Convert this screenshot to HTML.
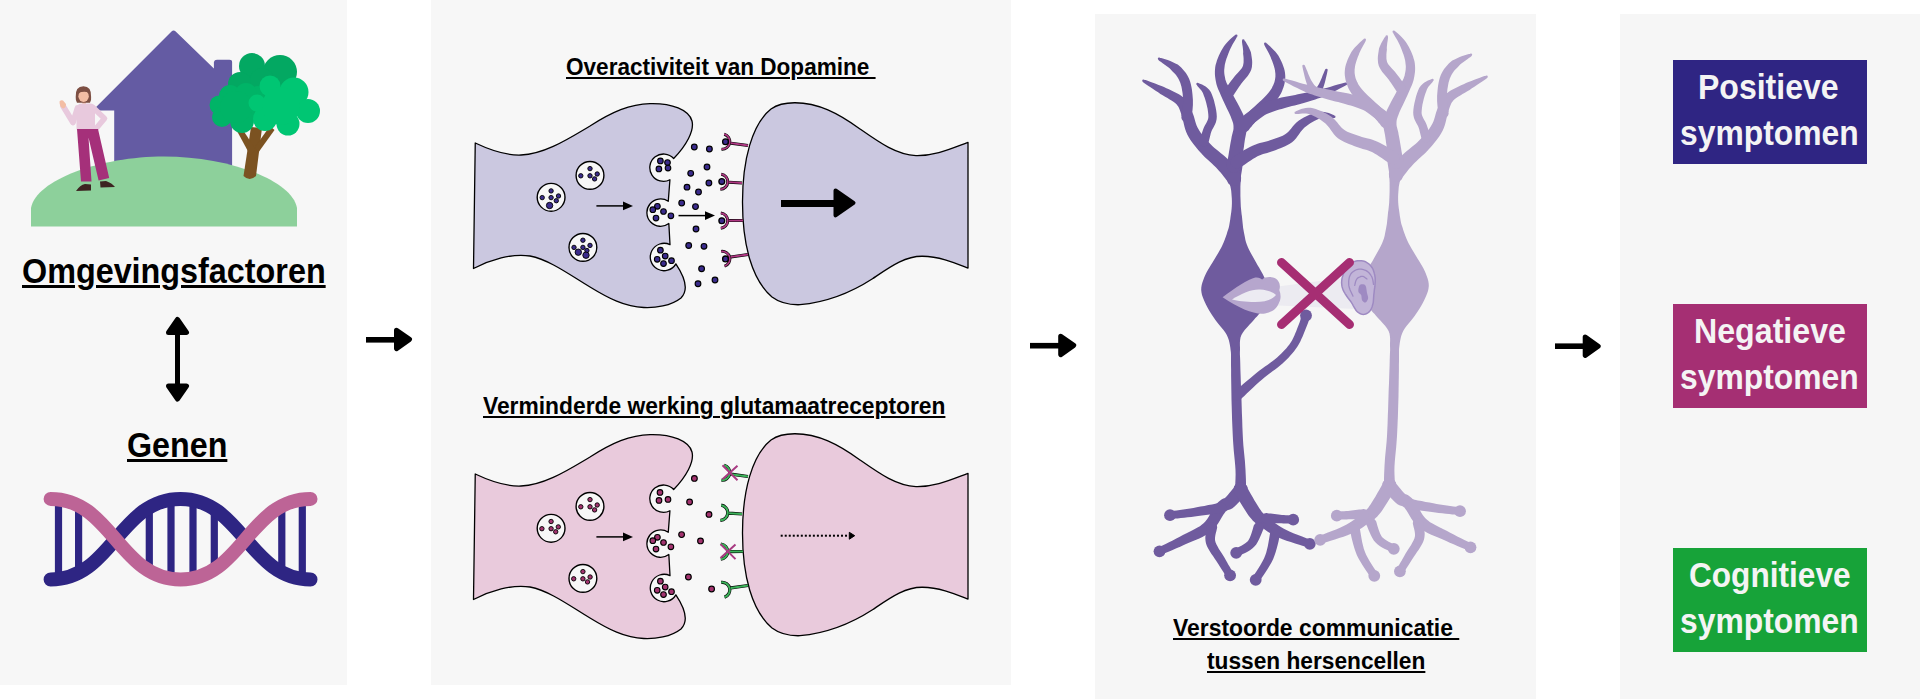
<!DOCTYPE html>
<html><head><meta charset="utf-8">
<style>
html,body{margin:0;padding:0;background:#fff;width:1920px;height:699px;overflow:hidden;position:relative}
.t{position:absolute;font-family:"Liberation Sans",sans-serif;font-weight:bold;line-height:1;white-space:pre;color:#000;transform-origin:0 0;text-decoration:underline}
.big{text-decoration-thickness:2.5px;text-underline-offset:2px}
.sm{text-decoration-thickness:1.8px;text-underline-offset:2px}
.b{position:absolute;font-family:"Liberation Sans",sans-serif;font-weight:bold;line-height:1;white-space:pre;color:#f4f4f4;transform-origin:0 0}
svg{position:absolute;left:0;top:0}
</style></head><body>
<svg width="1920" height="699" viewBox="0 0 1920 699">
<rect x="0" y="0" width="347" height="685" fill="#f7f7f7"/>
<rect x="431" y="0" width="580" height="685" fill="#f7f7f7"/>
<rect x="1095" y="14" width="441" height="685" fill="#f6f6f6"/>
<rect x="1620" y="14" width="300" height="685" fill="#f6f6f6"/>
<g fill="#000" stroke="#000" stroke-linejoin="round">
<rect x="366" y="337" width="30" height="5.6" stroke="none"/>
<path d="M396.5,330.2 L409.5,339.4 L396.5,348.6 Z" stroke-width="5"/>
<rect x="1030" y="342.9" width="30" height="5.6" stroke="none"/>
<path d="M1060.7,336.2 L1073.7,345.4 L1060.7,354.6 Z" stroke-width="5"/>
<rect x="1555" y="343.4" width="30" height="5.6" stroke="none"/>
<path d="M1585.2,337 L1598.2,346.2 L1585.2,355.4 Z" stroke-width="5"/>
<rect x="175" y="330" width="5" height="58" stroke="none"/>
<path d="M168.5,332.5 L177.5,319.5 L186.5,332.5 Z" stroke-width="5"/>
<path d="M168.5,386 L177.5,399 L186.5,386 Z" stroke-width="5"/>
</g>
<rect x="1673" y="60" width="194" height="104" fill="#2f2583"/>
<rect x="1673" y="304" width="194" height="104" fill="#a52f73"/>
<rect x="1673" y="548" width="194" height="104" fill="#17a339"/>
<path d="M95.9,107.2 L171.5,31.5 Q173.6,29.4 175.7,31.5 L213.9,68.5 L213.9,62 Q214.4,59.7 217,59.7 L229.5,59.7 Q232.1,59.7 232.1,62 L232.1,190 L114.2,190 L114.2,110.4 L95.9,110.4 Z" fill="#645ba3"/>
<path d="M31,226.5 L31,208 C36,180 100,156.5 164,156.5 C228,156.5 292,180 297,208 L297,226.5 Z" fill="#8dd09b"/>
<g fill="#7b5221"><path d="M243.5,176 Q249.5,182 256,176 L262,128 L251,127 Z"/><path d="M250,155 L237,131 L242,128.5 L256,150 Z"/><path d="M255,147 L270,126 L274.5,130 L258,153 Z"/></g>
<g fill="#03a862"><circle cx="252" cy="66" r="13"/><circle cx="280" cy="72" r="17"/><circle cx="240" cy="84" r="12"/><circle cx="262" cy="80" r="12"/></g>
<g fill="#00b467"><circle cx="258" cy="95" r="9"/><circle cx="252" cy="113" r="8"/><circle cx="230" cy="96" r="11"/><circle cx="219" cy="105" r="9.5"/><circle cx="222" cy="117" r="10"/><circle cx="242" cy="121" r="12"/><circle cx="246" cy="94" r="11"/><circle cx="236" cy="107" r="16"/></g>
<g fill="#00c673"><circle cx="270" cy="86" r="10.5"/><circle cx="294" cy="92" r="14.5"/><circle cx="308" cy="111" r="12"/><circle cx="288" cy="124" r="11.5"/><circle cx="265" cy="119" r="12"/><circle cx="257" cy="103" r="8.5"/><circle cx="281" cy="106" r="19"/></g>
<path d="M77.5,108 L73,122.5 L63,106" fill="none" stroke="#e8c9dd" stroke-width="5.8" stroke-linejoin="round" stroke-linecap="round"/>
<path d="M59.5,101.5 Q61,99.5 63,100.5 L66,104 Q66,108 63,108.5 Q59.5,107 59.5,101.5 Z" fill="#f3bda4"/>
<path d="M93,107.5 L104.5,118.5 L96.5,128" fill="none" stroke="#e8c9dd" stroke-width="5.6" stroke-linejoin="round" stroke-linecap="round"/>
<rect x="82.3" y="99" width="3.6" height="6.5" fill="#f3bda4"/>
<path d="M76.5,109 Q76.5,103.5 82,103.5 L90,103.5 Q95,103.5 95,109 L95,129.5 L76.5,129.5 Z" fill="#e8c9dd"/>
<path d="M77,129 L98,129 L109.2,178 L98.6,180.5 L88.5,137.5 L91.5,181.5 L81,181.5 Z" fill="#a5307a"/>
<path d="M76,191 Q80,185 85,184 L91,184.5 L91,190.5 Z M100,181.5 L106,181 Q112,183 115,187 L100.5,187.5 Z" fill="#3d2422"/>
<path d="M75.7,97 Q75.2,86.3 83.4,86.3 Q91.6,86.3 91.1,97 Q91.5,101 90,102.7 L77,102.7 Q75.5,101 75.7,97 Z" fill="#7d4f43"/>
<ellipse cx="83.6" cy="96.3" rx="5.2" ry="5.6" fill="#f3bda4"/>
<path d="M78,93 Q80,88 85,88.5 Q89,89.5 89.5,93 Q85,90.5 78,93 Z" fill="#7d4f43"/>
<rect x="54.9" y="499.4" width="7.2" height="79.7" fill="#2e2583"/>
<rect x="75" y="505.6" width="7.2" height="67.3" fill="#2e2583"/>
<rect x="145.7" y="507.4" width="7.2" height="63.7" fill="#2e2583"/>
<rect x="167.4" y="499.6" width="7.2" height="79.2" fill="#2e2583"/>
<rect x="189.4" y="500.1" width="7.2" height="78.2" fill="#2e2583"/>
<rect x="210.7" y="508.9" width="7.2" height="60.6" fill="#2e2583"/>
<rect x="278.2" y="505.9" width="7.2" height="66.5" fill="#2e2583"/>
<rect x="298.7" y="499.4" width="7.2" height="79.6" fill="#2e2583"/>
<path d="M50.6,579.5 C111.7,579.5 119.5,498.9 180.5,498.9 C241.6,498.9 249.4,579.5 310.5,579.5" fill="none" stroke="#2e2583" stroke-width="14" stroke-linecap="round"/>
<path d="M50.6,498.9 C111.7,498.9 119.5,579.5 180.5,579.5 C241.6,579.5 249.4,498.9 310.5,498.9" fill="none" stroke="#bd6496" stroke-width="14" stroke-linecap="round"/>
<path d="M475.25,143 C490,150 508,155.5 521,155 C545,154 568,139 590,126 C612,112 630,104 650,103.6 C672,103 689,110 692,121 C694.5,131 686,146 673.68,158.53 A13.7,13.7 0 1 0 669.93,179.8 L668.26,201.24 A13.7,13.7 0 1 0 668.84,223.54 L670.01,244.69 A13.7,13.7 0 1 0 675.86,263.85 C684,276 690,289 681,298 C671,306 655,308 643.75,307.5 C625,307 608,298 590,287 C570,275 550,260 530,256 C512,253 490,260 473.5,268.5 Z" fill="#cbc8e0" stroke="#000" stroke-width="1.3" stroke-linejoin="round"/>
<path d="M968,142.3 C950,149 935,156 916,155.6 C897,155 880,143 860,129 C838,113 818,102.8 795,102.75 C786,102.7 778,104 771,109 C752,124 742.5,160 742.5,202 C742.5,245 752,280 772,297 C780,303 790,305 800,304.7 C830,302 852,292 872.5,278.75 C890,267 905,256 922.5,256.25 C940,256.5 955,263 968,268.1 Z" fill="#cbc8e0" stroke="#000" stroke-width="1.3" stroke-linejoin="round"/>
<circle cx="551.1" cy="197.3" r="13.9" fill="#f7f7f7" stroke="#000" stroke-width="1.4"/>
<circle cx="590" cy="175.4" r="13.9" fill="#f7f7f7" stroke="#000" stroke-width="1.4"/>
<circle cx="582.9" cy="247.4" r="13.9" fill="#f7f7f7" stroke="#000" stroke-width="1.4"/>
<circle cx="551.1" cy="190.9" r="2.2" fill="#3a2b8c" stroke="#000" stroke-width="0.9"/>
<circle cx="542.2" cy="197.6" r="2.2" fill="#3a2b8c" stroke="#000" stroke-width="0.9"/>
<circle cx="551.1" cy="197.6" r="2.2" fill="#3a2b8c" stroke="#000" stroke-width="0.9"/>
<circle cx="558.5" cy="196" r="2.2" fill="#3a2b8c" stroke="#000" stroke-width="0.9"/>
<circle cx="556.3" cy="200.7" r="2.2" fill="#3a2b8c" stroke="#000" stroke-width="0.9"/>
<circle cx="549.6" cy="205.5" r="3.2" fill="#3a2b8c" stroke="#000" stroke-width="0.9"/>
<circle cx="590" cy="168.6" r="2.2" fill="#3a2b8c" stroke="#000" stroke-width="0.9"/>
<circle cx="580.8" cy="175.8" r="2.2" fill="#3a2b8c" stroke="#000" stroke-width="0.9"/>
<circle cx="590" cy="175.8" r="2.2" fill="#3a2b8c" stroke="#000" stroke-width="0.9"/>
<circle cx="597.2" cy="174" r="2.2" fill="#3a2b8c" stroke="#000" stroke-width="0.9"/>
<circle cx="594.6" cy="178.9" r="2.2" fill="#3a2b8c" stroke="#000" stroke-width="0.9"/>
<circle cx="582.9" cy="240.2" r="2.2" fill="#3a2b8c" stroke="#000" stroke-width="0.9"/>
<circle cx="574" cy="247.4" r="2.2" fill="#3a2b8c" stroke="#000" stroke-width="0.9"/>
<circle cx="582.9" cy="247.4" r="2.2" fill="#3a2b8c" stroke="#000" stroke-width="0.9"/>
<circle cx="590" cy="245.4" r="2.2" fill="#3a2b8c" stroke="#000" stroke-width="0.9"/>
<circle cx="586.9" cy="250.5" r="2.2" fill="#3a2b8c" stroke="#000" stroke-width="0.9"/>
<circle cx="578.3" cy="252.2" r="3.2" fill="#3a2b8c" stroke="#000" stroke-width="0.9"/>
<circle cx="586" cy="255.2" r="3.2" fill="#3a2b8c" stroke="#000" stroke-width="0.9"/>
<circle cx="660.4" cy="160.9" r="2.8" fill="#3a2b8c" stroke="#000" stroke-width="1.1"/>
<circle cx="667.5" cy="162.6" r="2.8" fill="#3a2b8c" stroke="#000" stroke-width="1.1"/>
<circle cx="658.9" cy="168.9" r="2.8" fill="#3a2b8c" stroke="#000" stroke-width="1.1"/>
<circle cx="668" cy="168.1" r="2.8" fill="#3a2b8c" stroke="#000" stroke-width="1.1"/>
<circle cx="657.4" cy="206.3" r="2.8" fill="#3a2b8c" stroke="#000" stroke-width="1.1"/>
<circle cx="652.8" cy="209.7" r="2.8" fill="#3a2b8c" stroke="#000" stroke-width="1.1"/>
<circle cx="663.5" cy="211.5" r="2.8" fill="#3a2b8c" stroke="#000" stroke-width="1.1"/>
<circle cx="656" cy="218.1" r="2.8" fill="#3a2b8c" stroke="#000" stroke-width="1.1"/>
<circle cx="670.9" cy="215.8" r="2.8" fill="#3a2b8c" stroke="#000" stroke-width="1.1"/>
<circle cx="660.4" cy="250.2" r="2.8" fill="#3a2b8c" stroke="#000" stroke-width="1.1"/>
<circle cx="665.2" cy="256.1" r="2.8" fill="#3a2b8c" stroke="#000" stroke-width="1.1"/>
<circle cx="657.2" cy="259.3" r="2.8" fill="#3a2b8c" stroke="#000" stroke-width="1.1"/>
<circle cx="671.5" cy="260.7" r="2.8" fill="#3a2b8c" stroke="#000" stroke-width="1.1"/>
<circle cx="663.5" cy="263.6" r="2.8" fill="#3a2b8c" stroke="#000" stroke-width="1.1"/>
<circle cx="694.3" cy="147" r="2.85" fill="#3a2b8c" stroke="#000" stroke-width="1.15"/>
<circle cx="709.4" cy="149" r="2.85" fill="#3a2b8c" stroke="#000" stroke-width="1.15"/>
<circle cx="707" cy="167" r="2.85" fill="#3a2b8c" stroke="#000" stroke-width="1.15"/>
<circle cx="690.7" cy="173.3" r="2.85" fill="#3a2b8c" stroke="#000" stroke-width="1.15"/>
<circle cx="708.9" cy="183" r="2.85" fill="#3a2b8c" stroke="#000" stroke-width="1.15"/>
<circle cx="687" cy="187.2" r="2.85" fill="#3a2b8c" stroke="#000" stroke-width="1.15"/>
<circle cx="698.5" cy="192" r="2.85" fill="#3a2b8c" stroke="#000" stroke-width="1.15"/>
<circle cx="681.7" cy="203" r="2.85" fill="#3a2b8c" stroke="#000" stroke-width="1.15"/>
<circle cx="695.5" cy="206.6" r="2.85" fill="#3a2b8c" stroke="#000" stroke-width="1.15"/>
<circle cx="696" cy="229" r="2.85" fill="#3a2b8c" stroke="#000" stroke-width="1.15"/>
<circle cx="688.7" cy="245.5" r="2.85" fill="#3a2b8c" stroke="#000" stroke-width="1.15"/>
<circle cx="704" cy="246.3" r="2.85" fill="#3a2b8c" stroke="#000" stroke-width="1.15"/>
<circle cx="701.6" cy="268.7" r="2.85" fill="#3a2b8c" stroke="#000" stroke-width="1.15"/>
<circle cx="698" cy="283.7" r="2.85" fill="#3a2b8c" stroke="#000" stroke-width="1.15"/>
<circle cx="715" cy="280" r="2.85" fill="#3a2b8c" stroke="#000" stroke-width="1.15"/>
<path d="M724.2,134.23 A7.6,7.6 0 0 1 721.49,149.13 M748,145.5 L730.98,143.16" fill="none" stroke="#000" stroke-width="3.0"/>
<path d="M724.2,134.23 A7.6,7.6 0 0 1 721.49,149.13 M748,145.5 L730.98,143.16" fill="none" stroke="#b03884" stroke-width="1.8"/>
<circle cx="725.5" cy="141.8" r="2.9" fill="#3a2b8c" stroke="#000" stroke-width="1.3"/>
<path d="M721.26,174.2 A7.6,7.6 0 0 1 720.42,189.32 M742,183 L729.09,182.22" fill="none" stroke="#000" stroke-width="3.0"/>
<path d="M721.26,174.2 A7.6,7.6 0 0 1 720.42,189.32 M742,183 L729.09,182.22" fill="none" stroke="#b03884" stroke-width="1.8"/>
<circle cx="721.8" cy="181.6" r="2.9" fill="#3a2b8c" stroke="#000" stroke-width="1.3"/>
<path d="M720.84,213.03 A7.6,7.6 0 0 1 720.84,228.17 M743,220.5 L729.1,220.6" fill="none" stroke="#000" stroke-width="3.0"/>
<path d="M720.84,213.03 A7.6,7.6 0 0 1 720.84,228.17 M743,220.5 L729.1,220.6" fill="none" stroke="#b03884" stroke-width="1.8"/>
<circle cx="721.8" cy="220.7" r="2.9" fill="#3a2b8c" stroke="#000" stroke-width="1.3"/>
<path d="M721.16,251.37 A7.6,7.6 0 0 1 724.55,266.13 M748,254.5 L730.91,256.89" fill="none" stroke="#000" stroke-width="3.0"/>
<path d="M721.16,251.37 A7.6,7.6 0 0 1 724.55,266.13 M748,254.5 L730.91,256.89" fill="none" stroke="#b03884" stroke-width="1.8"/>
<circle cx="725.5" cy="258.9" r="2.9" fill="#3a2b8c" stroke="#000" stroke-width="1.3"/>
<path d="M596.4,205.9 L625,205.9" stroke="#000" stroke-width="1.5"/>
<path d="M623,201.6 L633,205.9 L623,210.2 Z" fill="#000"/>
<path d="M678.5,215.6 L707,215.6" stroke="#000" stroke-width="1.5"/>
<path d="M705,211.3 L715,215.6 L705,219.9 Z" fill="#000"/>
<path d="M781,203.5 L840,203.5" stroke="#000" stroke-width="7"/>
<path d="M835.5,190.5 L853.5,202.8 L835.5,215.3 Z" fill="#000" stroke="#000" stroke-width="4" stroke-linejoin="round"/>
<path d="M475.25,474 C490,481 508,486.5 521,486 C545,485 568,470 590,457 C612,443 630,435 650,434.6 C672,434 689,441 692,452 C694.5,462 686,477 673.68,489.53 A13.7,13.7 0 1 0 669.93,510.8 L668.26,532.24 A13.7,13.7 0 1 0 668.84,554.54 L670.01,575.69 A13.7,13.7 0 1 0 675.86,594.85 C684,607 690,620 681,629 C671,637 655,639 643.75,638.5 C625,638 608,629 590,618 C570,606 550,591 530,587 C512,584 490,591 473.5,599.5 Z" fill="#e9cadc" stroke="#000" stroke-width="1.3" stroke-linejoin="round"/>
<path d="M968,473.3 C950,480 935,487 916,486.6 C897,486 880,474 860,460 C838,444 818,433.8 795,433.75 C786,433.7 778,435 771,440 C752,455 742.5,491 742.5,533 C742.5,576 752,611 772,628 C780,634 790,636 800,635.7 C830,633 852,623 872.5,609.75 C890,598 905,587 922.5,587.25 C940,587.5 955,594 968,599.1 Z" fill="#e9cadc" stroke="#000" stroke-width="1.3" stroke-linejoin="round"/>
<circle cx="551.1" cy="528.3" r="13.9" fill="#f7f7f7" stroke="#000" stroke-width="1.4"/>
<circle cx="590" cy="506.4" r="13.9" fill="#f7f7f7" stroke="#000" stroke-width="1.4"/>
<circle cx="582.9" cy="578.4" r="13.9" fill="#f7f7f7" stroke="#000" stroke-width="1.4"/>
<circle cx="551.1" cy="521.5" r="2.2" fill="#a3336f" stroke="#000" stroke-width="0.9"/>
<circle cx="541.9" cy="528.7" r="2.2" fill="#a3336f" stroke="#000" stroke-width="0.9"/>
<circle cx="551.1" cy="528.7" r="2.2" fill="#a3336f" stroke="#000" stroke-width="0.9"/>
<circle cx="558.3" cy="526.9" r="2.2" fill="#a3336f" stroke="#000" stroke-width="0.9"/>
<circle cx="555.7" cy="531.8" r="2.2" fill="#a3336f" stroke="#000" stroke-width="0.9"/>
<circle cx="590" cy="499.6" r="2.2" fill="#a3336f" stroke="#000" stroke-width="0.9"/>
<circle cx="580.8" cy="506.8" r="2.2" fill="#a3336f" stroke="#000" stroke-width="0.9"/>
<circle cx="590" cy="506.8" r="2.2" fill="#a3336f" stroke="#000" stroke-width="0.9"/>
<circle cx="597.2" cy="505" r="2.2" fill="#a3336f" stroke="#000" stroke-width="0.9"/>
<circle cx="594.6" cy="509.9" r="2.2" fill="#a3336f" stroke="#000" stroke-width="0.9"/>
<circle cx="582.9" cy="571.6" r="2.2" fill="#a3336f" stroke="#000" stroke-width="0.9"/>
<circle cx="573.7" cy="578.8" r="2.2" fill="#a3336f" stroke="#000" stroke-width="0.9"/>
<circle cx="582.9" cy="578.8" r="2.2" fill="#a3336f" stroke="#000" stroke-width="0.9"/>
<circle cx="590.1" cy="577" r="2.2" fill="#a3336f" stroke="#000" stroke-width="0.9"/>
<circle cx="587.5" cy="581.9" r="2.2" fill="#a3336f" stroke="#000" stroke-width="0.9"/>
<circle cx="660" cy="492.4" r="2.8" fill="#a3336f" stroke="#000" stroke-width="1.1"/>
<circle cx="659" cy="500.4" r="2.8" fill="#a3336f" stroke="#000" stroke-width="1.1"/>
<circle cx="668" cy="499.4" r="2.8" fill="#a3336f" stroke="#000" stroke-width="1.1"/>
<circle cx="657.4" cy="537.3" r="2.8" fill="#a3336f" stroke="#000" stroke-width="1.1"/>
<circle cx="652.8" cy="540.7" r="2.8" fill="#a3336f" stroke="#000" stroke-width="1.1"/>
<circle cx="663.5" cy="542.5" r="2.8" fill="#a3336f" stroke="#000" stroke-width="1.1"/>
<circle cx="656" cy="549.1" r="2.8" fill="#a3336f" stroke="#000" stroke-width="1.1"/>
<circle cx="670.9" cy="546.8" r="2.8" fill="#a3336f" stroke="#000" stroke-width="1.1"/>
<circle cx="660.4" cy="581.2" r="2.8" fill="#a3336f" stroke="#000" stroke-width="1.1"/>
<circle cx="665.2" cy="587.1" r="2.8" fill="#a3336f" stroke="#000" stroke-width="1.1"/>
<circle cx="657.2" cy="590.3" r="2.8" fill="#a3336f" stroke="#000" stroke-width="1.1"/>
<circle cx="671.5" cy="591.7" r="2.8" fill="#a3336f" stroke="#000" stroke-width="1.1"/>
<circle cx="663.5" cy="594.6" r="2.8" fill="#a3336f" stroke="#000" stroke-width="1.1"/>
<circle cx="694.4" cy="478.4" r="2.85" fill="#a3336f" stroke="#000" stroke-width="1.15"/>
<circle cx="689.6" cy="502" r="2.85" fill="#a3336f" stroke="#000" stroke-width="1.15"/>
<circle cx="709" cy="514.4" r="2.85" fill="#a3336f" stroke="#000" stroke-width="1.15"/>
<circle cx="681.6" cy="534.6" r="2.85" fill="#a3336f" stroke="#000" stroke-width="1.15"/>
<circle cx="700.5" cy="540.9" r="2.85" fill="#a3336f" stroke="#000" stroke-width="1.15"/>
<circle cx="688.4" cy="577" r="2.85" fill="#a3336f" stroke="#000" stroke-width="1.15"/>
<circle cx="711.6" cy="589" r="2.85" fill="#a3336f" stroke="#000" stroke-width="1.15"/>
<path d="M724.2,465.23 A7.6,7.6 0 0 1 721.49,480.13 M748,476.5 L730.98,474.16" fill="none" stroke="#000" stroke-width="3.2"/>
<path d="M724.2,465.23 A7.6,7.6 0 0 1 721.49,480.13 M748,476.5 L730.98,474.16" fill="none" stroke="#3cb35a" stroke-width="2.0"/>
<path d="M722.5,465.3 L737.5,480.3 M737.5,465.8 L722.5,479.3" stroke="#a83a82" stroke-width="2" fill="none"/>
<path d="M721.26,505.2 A7.6,7.6 0 0 1 720.42,520.32 M742,514 L729.09,513.22" fill="none" stroke="#000" stroke-width="3.2"/>
<path d="M721.26,505.2 A7.6,7.6 0 0 1 720.42,520.32 M742,514 L729.09,513.22" fill="none" stroke="#3cb35a" stroke-width="2.0"/>
<path d="M720.84,544.03 A7.6,7.6 0 0 1 720.84,559.17 M743,551.5 L729.1,551.6" fill="none" stroke="#000" stroke-width="3.2"/>
<path d="M720.84,544.03 A7.6,7.6 0 0 1 720.84,559.17 M743,551.5 L729.1,551.6" fill="none" stroke="#3cb35a" stroke-width="2.0"/>
<path d="M720.5,544.1 L735.5,559.1 M735.5,544.6 L720.5,558.1" stroke="#a83a82" stroke-width="2" fill="none"/>
<path d="M721.16,582.37 A7.6,7.6 0 0 1 724.55,597.13 M748,585.5 L730.91,587.89" fill="none" stroke="#000" stroke-width="3.2"/>
<path d="M721.16,582.37 A7.6,7.6 0 0 1 724.55,597.13 M748,585.5 L730.91,587.89" fill="none" stroke="#3cb35a" stroke-width="2.0"/>
<path d="M596.4,536.9 L625,536.9" stroke="#000" stroke-width="1.5"/>
<path d="M623,532.6 L633,536.9 L623,541.2 Z" fill="#000"/>
<g fill="#000"><rect x="780.7" y="534.7" width="2" height="2"/><rect x="784.72" y="534.7" width="2" height="2"/><rect x="788.74" y="534.7" width="2" height="2"/><rect x="792.76" y="534.7" width="2" height="2"/><rect x="796.78" y="534.7" width="2" height="2"/><rect x="800.8" y="534.7" width="2" height="2"/><rect x="804.82" y="534.7" width="2" height="2"/><rect x="808.84" y="534.7" width="2" height="2"/><rect x="812.86" y="534.7" width="2" height="2"/><rect x="816.88" y="534.7" width="2" height="2"/><rect x="820.9" y="534.7" width="2" height="2"/><rect x="824.92" y="534.7" width="2" height="2"/><rect x="828.94" y="534.7" width="2" height="2"/><rect x="832.96" y="534.7" width="2" height="2"/><rect x="836.98" y="534.7" width="2" height="2"/><rect x="841" y="534.7" width="2" height="2"/><rect x="845.02" y="534.7" width="2" height="2"/></g>
<path d="M849.3,532.3 L854.7,535.7 L849.3,539.2 Z" fill="#000" stroke="#000" stroke-width="1" stroke-linejoin="round"/>
<g fill="#6f5b9e"><path d="M1229,160 L1228.2,162 L1227.8,164.8 L1227.8,168.2 L1228,171.6 L1228.3,175 L1228.6,177.9 L1228.9,180.3 L1229.3,182.4 L1229.8,184.4 L1230.4,186.4 L1230.8,188.5 L1231.2,190.7 L1231.4,193.1 L1231.6,195.7 L1231.8,198.3 L1231.9,200.9 L1231.9,203.6 L1231.8,206.2 L1231.6,208.9 L1231.3,211.7 L1230.9,214.6 L1230.5,217.3 L1230.2,219.8 L1229.8,222 L1229.5,223.7 L1229.3,225 L1229.1,226.1 L1228.9,227.1 L1228.5,228.4 L1228,230 L1227.3,232.1 L1226.6,234.5 L1225.7,237.1 L1224.7,239.7 L1223.6,242.4 L1222.5,245 L1221.3,247.5 L1219.9,250 L1218.5,252.5 L1217,255 L1215.5,257.5 L1214,260 L1212.5,262.5 L1210.9,265 L1209.4,267.5 L1207.9,270 L1206.5,272.5 L1205.3,275 L1204.2,277.5 L1203.3,280 L1202.4,282.5 L1201.7,285 L1201.3,287.5 L1201.2,290 L1201.5,292.5 L1202,295 L1202.9,297.5 L1203.9,300 L1205,302.5 L1206.2,305 L1207.5,307.5 L1208.9,310 L1210.4,312.5 L1212,315 L1213.7,317.5 L1215.4,320 L1217.3,322.5 L1219.3,325 L1221.4,327.5 L1223.5,330 L1225.3,332.5 L1226.8,335 L1227.9,337.5 L1228.8,340 L1229.4,342.5 L1229.9,345 L1230.3,347.5 L1230.6,350 L1230.9,352.3 L1231,354.3 L1231,356.2 L1231,358.5 L1231,361.3 L1231,365 L1231.1,369.6 L1231.1,375 L1231.2,380.9 L1231.3,387.2 L1231.4,393.6 L1231.5,400 L1231.7,406.5 L1231.9,413.3 L1232.1,420.3 L1232.4,427.2 L1232.7,433.9 L1233,440 L1233.4,445.7 L1233.8,451 L1234.3,456.1 L1234.8,461 L1235.2,465.6 L1235.5,470 L1235.6,474.4 L1235.5,478.7 L1235.3,482.9 L1235.3,486.6 L1235.4,489.7 L1236,492 L1237.1,493.5 L1238.7,494.4 L1240.5,494.8 L1242.3,494.4 L1243.9,493.5 L1245,492 L1245.6,489.7 L1245.9,486.6 L1246,482.9 L1245.9,478.7 L1245.7,474.4 L1245.5,470 L1245.2,465.6 L1244.9,461 L1244.4,456.1 L1243.9,451 L1243.4,445.7 L1243,440 L1242.7,433.9 L1242.4,427.2 L1242.2,420.3 L1241.9,413.3 L1241.7,406.5 L1241.5,400 L1241.3,393.6 L1241,387.2 L1240.8,380.9 L1240.6,375 L1240.4,369.6 L1240.3,365 L1240.2,361.3 L1240.1,358.5 L1240,356.2 L1239.9,354.3 L1239.9,352.3 L1240,350 L1240,347.5 L1239.9,345 L1239.9,342.5 L1240.1,340 L1240.5,337.5 L1241.4,335 L1242.9,332.4 L1244.9,329.8 L1247.2,327.2 L1249.6,324.6 L1251.8,322.2 L1253.8,320 L1255.4,318.1 L1257,316.4 L1258.4,314.8 L1259.7,313.3 L1260.9,311.7 L1262,310 L1263.1,308.1 L1264.1,306.2 L1265,304.2 L1265.8,302.1 L1266.5,300.1 L1267,298 L1267.3,295.9 L1267.5,293.6 L1267.5,291.4 L1267.5,289.1 L1267.3,287 L1267,285 L1266.6,283.2 L1266.2,281.6 L1265.6,280.1 L1265,278.6 L1264.1,276.9 L1263.2,275 L1262,272.8 L1260.7,270.4 L1259.2,267.8 L1257.6,265.2 L1256.1,262.6 L1254.7,260 L1253.3,257.5 L1251.9,255 L1250.5,252.5 L1249.2,250 L1248,247.5 L1247,245 L1246.1,242.5 L1245.4,239.9 L1244.9,237.3 L1244.4,234.8 L1243.9,232.3 L1243.5,230 L1243.1,227.8 L1242.9,225.8 L1242.7,223.8 L1242.5,221.9 L1242.3,220 L1242.1,218 L1241.9,216.1 L1241.6,214.2 L1241.4,212.3 L1241.2,210.4 L1241,208.4 L1240.8,206.2 L1240.7,203.8 L1240.6,201.2 L1240.5,198.5 L1240.4,195.8 L1240.4,193.2 L1240.4,190.7 L1240.4,188.5 L1240.4,186.4 L1240.5,184.4 L1240.6,182.4 L1240.7,180.3 L1240.8,177.9 L1241.1,175 L1241.7,171.6 L1242.2,168.2 L1242.6,164.8 L1242.6,162 L1242,160 L1240.5,158.8 L1238.3,158 L1235.6,157.8 L1232.9,158 L1230.6,158.8 Z"/>
<path d="M1142.8,81.9 L1144.1,83 L1145.9,84.2 L1148.1,85.7 L1150.5,87.3 L1153.1,89 L1155.6,90.7 L1158.1,92.3 L1160.4,93.9 L1162.7,95.3 L1165.1,96.7 L1167.5,98.1 L1169.7,99.4 L1171.9,100.7 L1173.8,102.1 L1175.4,103.3 L1176.7,104.6 L1177.6,105.7 L1178.4,106.8 L1179,108 L1179.5,109.2 L1180,110.6 L1180.6,112.3 L1181.2,114.1 L1181.8,116 L1182.4,117.8 L1182.9,119.7 L1183.4,121.9 L1183.9,124.2 L1184.5,126.7 L1185.3,129.4 L1186.2,132.1 L1187.4,134.8 L1188.8,137.3 L1190.3,139.7 L1191.9,142 L1193.6,144.3 L1195.4,146.6 L1197.2,148.8 L1199.1,150.9 L1201,153.1 L1203,155.3 L1205.2,157.5 L1207.5,159.6 L1209.7,161.6 L1211.9,163.6 L1213.9,165.5 L1215.8,167.3 L1217.4,169 L1218.9,170.7 L1220.6,172.5 L1222.2,174.5 L1223.7,176.4 L1225.1,178.2 L1226.4,179.9 L1227.5,181.3 L1228.4,182.4 L1239.6,173.6 L1239.6,173.6 L1238.8,172.5 L1237.7,171.1 L1236.4,169.5 L1234.9,167.5 L1233.3,165.5 L1231.5,163.3 L1229.6,161.1 L1227.6,159 L1225.5,157 L1223.2,155.1 L1220.9,153.2 L1218.6,151.3 L1216.4,149.5 L1214.2,147.7 L1212.3,145.9 L1210.4,144.1 L1208.7,142.3 L1206.9,140.3 L1205.2,138.4 L1203.6,136.5 L1202.1,134.6 L1200.7,132.7 L1199.4,130.8 L1198.4,129 L1197.4,127.3 L1196.6,125.4 L1195.9,123.4 L1195.2,121.2 L1194.6,118.9 L1193.9,116.6 L1193.1,114.2 L1192.2,112 L1191.3,110.2 L1190.6,108.4 L1189.8,106.7 L1189,104.9 L1187.9,103 L1186.7,101.1 L1185.2,99.2 L1183.3,97.4 L1181.2,95.8 L1178.9,94.3 L1176.4,93 L1173.9,91.7 L1171.4,90.5 L1168.9,89.3 L1166.4,88.2 L1164,87.1 L1161.5,86 L1158.6,84.9 L1155.7,83.8 L1152.9,82.7 L1150.1,81.7 L1147.7,80.8 L1145.6,80.1 L1144,79.7 Z M1142.2,80.8 a1.2,1.2 0 1 0 2.5,0 a1.2,1.2 0 1 0 -2.5,0 Z M1226.8,178 a7.2,7.2 0 1 0 14.3,0 a7.2,7.2 0 1 0 -14.3,0 Z" fill-rule="nonzero"/>
<path d="M1158.4,59.9 L1159.5,60.9 L1161.1,62.1 L1163,63.5 L1165.1,65 L1167.2,66.5 L1169.3,68.1 L1171,69.7 L1172.3,71.2 L1173.6,72.4 L1174.9,73.8 L1176,75.1 L1177,76.5 L1178,77.9 L1178.8,79.4 L1179.5,81 L1180.2,82.6 L1180.8,84.4 L1181.4,86.4 L1181.8,88.6 L1182.2,90.9 L1182.6,93.3 L1182.8,95.7 L1183,98 L1183.1,100.2 L1183.1,102.3 L1183,104.5 L1182.7,106.8 L1182.5,109.1 L1182.1,111.3 L1181.8,113.3 L1181.5,115.1 L1181.3,116.4 L1191.7,117.6 L1191.7,117.6 L1191.8,116.4 L1192,114.7 L1192.2,112.6 L1192.5,110.3 L1192.7,107.8 L1192.9,105.1 L1192.9,102.4 L1192.9,99.8 L1192.7,97.3 L1192.5,94.8 L1192.2,92.1 L1191.9,89.4 L1191.4,86.7 L1190.8,84 L1190.1,81.5 L1189.2,79 L1188.1,76.8 L1187,74.7 L1185.7,72.8 L1184.2,70.9 L1182.7,69.2 L1181.2,67.6 L1179.5,66.1 L1177.7,64.6 L1175.4,63.4 L1172.9,62.2 L1170.3,61.1 L1167.7,60.1 L1165.2,59.3 L1162.9,58.6 L1161,58 L1159.6,57.7 Z M1157.8,58.8 a1.2,1.2 0 1 0 2.5,0 a1.2,1.2 0 1 0 -2.5,0 Z M1181.3,117 a5.2,5.2 0 1 0 10.4,0 a5.2,5.2 0 1 0 -10.4,0 Z" fill-rule="nonzero"/>
<path d="M1196.8,85 L1197.4,85.9 L1198.3,87 L1199.4,88.2 L1200.5,89.4 L1201.6,90.8 L1202.5,92.2 L1203.2,93.8 L1203.8,95.4 L1204.6,97.4 L1205.4,99.9 L1206.2,102.8 L1206.9,105.8 L1207.6,108.8 L1208,111.7 L1208.3,114.4 L1208.4,116.5 L1208.3,118 L1207.9,119.4 L1207.4,120.8 L1206.7,122.2 L1205.9,123.7 L1205,125.3 L1204.1,127.1 L1203.3,129 L1202.7,130.8 L1202.1,132.5 L1201.6,134.3 L1201.1,135.9 L1200.6,137.5 L1200.2,138.8 L1199.9,139.9 L1199.6,140.8 L1208.4,143.2 L1208.4,143.2 L1208.6,142.3 L1208.9,141.1 L1209.2,139.7 L1209.6,138.2 L1210,136.6 L1210.4,135 L1210.8,133.3 L1211.3,131.8 L1211.8,130.6 L1212.4,129.3 L1213.3,127.8 L1214.2,126.1 L1215.2,124.1 L1216,121.9 L1216.6,119.3 L1216.8,116.5 L1216.6,113.6 L1216.2,110.5 L1215.6,107.2 L1214.8,103.9 L1214,100.6 L1213,97.5 L1211.9,94.6 L1210.8,92 L1209.2,89.8 L1207.4,88 L1205.6,86.6 L1203.8,85.4 L1202.1,84.6 L1200.6,83.9 L1199.3,83.4 L1198.4,83 Z M1196.3,84 a1.2,1.2 0 1 0 2.5,0 a1.2,1.2 0 1 0 -2.5,0 Z M1199.5,142 a4.5,4.5 0 1 0 9.1,0 a4.5,4.5 0 1 0 -9.1,0 Z" fill-rule="nonzero"/>
<path d="M1235.2,34.9 L1234.2,35.7 L1233,36.7 L1231.5,38.1 L1229.9,39.6 L1228.2,41.2 L1226.6,43 L1224.9,44.9 L1223.5,46.9 L1222.3,48.9 L1221.1,51.1 L1220,53.3 L1218.9,55.6 L1217.9,57.9 L1217,60.3 L1216.3,62.7 L1215.6,65 L1215.2,67.2 L1215,69.5 L1214.9,71.6 L1214.9,73.8 L1215,75.8 L1215.3,77.9 L1215.6,79.9 L1216,81.9 L1216.4,83.9 L1217,85.9 L1217.6,87.7 L1218.3,89.5 L1219.1,91.3 L1219.9,93.1 L1220.7,95 L1221.6,97.1 L1222.7,99.6 L1224.1,102.4 L1225.5,105.4 L1226.9,108.4 L1228.4,111.4 L1229.7,114.2 L1230.8,116.7 L1231.6,118.9 L1232.2,120.6 L1232.7,122.1 L1233.1,123.3 L1233.3,124.3 L1233.4,125.1 L1233.5,126 L1233.5,127 L1233.5,128.1 L1233.5,129.1 L1233.3,129.9 L1233.2,130.7 L1232.9,131.7 L1232.6,133 L1232.2,134.6 L1231.7,136.6 L1231.3,138.9 L1230.8,141.6 L1230.2,144.8 L1229.6,148.4 L1229,152.1 L1228.4,155.8 L1227.8,159.1 L1227.3,161.9 L1226.9,163.9 L1241.1,166.1 L1241.1,166.1 L1241.3,164.1 L1241.7,161.3 L1242.2,158 L1242.8,154.4 L1243.3,150.6 L1243.9,147 L1244.3,143.8 L1244.7,141.1 L1245,139.1 L1245.3,137.5 L1245.6,136 L1245.9,134.6 L1246.2,133.1 L1246.4,131.5 L1246.5,129.7 L1246.5,127.9 L1246.4,126.2 L1246.2,124.7 L1246,123.1 L1245.6,121.5 L1245.2,119.8 L1244.6,118.1 L1243.9,116.2 L1243,114.1 L1241.9,111.7 L1240.5,109 L1239,106.1 L1237.4,103.1 L1235.7,100.1 L1234.2,97.3 L1232.8,94.6 L1231.6,92.3 L1230.5,90.2 L1229.5,88.3 L1228.5,86.6 L1227.7,85.1 L1227,83.8 L1226.4,82.5 L1225.9,81.1 L1225.4,79.7 L1225.1,78.1 L1224.8,76.5 L1224.5,74.9 L1224.3,73.2 L1224.2,71.6 L1224.2,70 L1224.4,68.3 L1224.6,66.6 L1224.8,64.8 L1225.3,62.8 L1225.8,60.7 L1226.5,58.5 L1227.3,56.4 L1228.1,54.2 L1228.9,52.2 L1229.7,50.3 L1230.5,48.4 L1231.5,46.5 L1232.5,44.5 L1233.7,42.6 L1234.8,40.8 L1235.8,39.1 L1236.6,37.6 L1237.2,36.5 Z M1235,35.7 a1.2,1.2 0 1 0 2.5,0 a1.2,1.2 0 1 0 -2.5,0 Z M1226.8,165 a7.2,7.2 0 1 0 14.3,0 a7.2,7.2 0 1 0 -14.3,0 Z" fill-rule="nonzero"/>
<path d="M1242,41 L1242,42.1 L1242.2,43.4 L1242.4,45 L1242.7,46.7 L1242.9,48.4 L1243.1,50.2 L1243.2,51.9 L1243.1,53.5 L1243.3,55.2 L1243.5,57 L1243.6,58.8 L1243.6,60.6 L1243.6,62.2 L1243.4,63.8 L1243.1,65.2 L1242.7,66.4 L1242.2,67.5 L1241.4,68.7 L1240.3,70.1 L1239,71.5 L1237.7,73.1 L1236.2,74.6 L1234.7,76.2 L1233.4,77.9 L1232.2,79.5 L1231,81 L1229.9,82.6 L1228.8,84.1 L1227.8,85.5 L1226.9,86.7 L1226.1,87.8 L1225.5,88.5 L1234.1,94.5 L1234.1,94.5 L1234.6,93.6 L1235.3,92.5 L1236.1,91.3 L1237.1,89.8 L1238.1,88.3 L1239.1,86.7 L1240.2,85.2 L1241.2,83.7 L1242.2,82.4 L1243.4,81 L1244.7,79.4 L1246.2,77.7 L1247.7,75.9 L1249,73.9 L1250.3,71.8 L1251.3,69.4 L1251.9,67 L1252.1,64.7 L1252.2,62.4 L1252.1,60.2 L1251.8,58 L1251.5,56 L1251.2,54.1 L1250.9,52.3 L1250.2,50.4 L1249.3,48.5 L1248.5,46.7 L1247.5,45 L1246.6,43.4 L1245.8,42.1 L1245,41 L1244.4,40.2 Z M1242,40.6 a1.2,1.2 0 1 0 2.5,0 a1.2,1.2 0 1 0 -2.5,0 Z M1224.6,91.5 a5.2,5.2 0 1 0 10.4,0 a5.2,5.2 0 1 0 -10.4,0 Z" fill-rule="nonzero"/>
<path d="M1264.2,44.6 L1264.7,45.8 L1265.5,47.3 L1266.5,49.1 L1267.6,51.1 L1268.7,53.1 L1269.8,55.2 L1270.7,57.2 L1271.3,59 L1272.1,60.8 L1272.8,62.7 L1273.5,64.7 L1274.1,66.7 L1274.6,68.6 L1275,70.5 L1275.2,72.2 L1275.4,73.8 L1275.4,75.3 L1275.4,76.8 L1275.2,78.2 L1275,79.6 L1274.7,81 L1274.3,82.4 L1273.8,83.8 L1273.2,85.3 L1272.5,86.6 L1271.9,87.9 L1271.1,89.2 L1270.2,90.4 L1269.3,91.8 L1268.1,93.2 L1266.8,94.7 L1265.4,96.3 L1263.7,98.1 L1261.7,100 L1259.4,102.1 L1257,104.3 L1254.6,106.4 L1252.3,108.6 L1250.1,110.5 L1248.2,112.4 L1246.5,114 L1244.9,115.5 L1243.5,116.9 L1242.3,118.2 L1241.2,119.3 L1240.2,120.3 L1239.5,121.1 L1238.8,121.7 L1248.6,130.3 L1248.6,130.3 L1249.1,129.5 L1249.8,128.6 L1250.6,127.5 L1251.6,126.4 L1252.6,125.1 L1253.8,123.7 L1255,122.2 L1256.4,120.6 L1258.1,119 L1260.1,117 L1262.4,114.9 L1264.8,112.6 L1267.2,110.3 L1269.5,108 L1271.7,105.8 L1273.6,103.7 L1275.2,101.8 L1276.6,99.9 L1278,98.2 L1279.1,96.4 L1280.2,94.7 L1281.2,92.9 L1282.1,91 L1282.8,89.1 L1283.5,87.2 L1284.1,85.3 L1284.6,83.3 L1284.9,81.3 L1285.2,79.2 L1285.3,77.1 L1285.2,75 L1285,72.8 L1284.6,70.5 L1284,68.3 L1283.2,66 L1282.4,63.8 L1281.4,61.6 L1280.4,59.4 L1279.4,57.4 L1278.3,55.4 L1276.8,53.5 L1275.2,51.5 L1273.4,49.7 L1271.7,47.9 L1270,46.3 L1268.5,45 L1267.2,43.8 L1266.2,43 Z M1264,43.8 a1.2,1.2 0 1 0 2.5,0 a1.2,1.2 0 1 0 -2.5,0 Z M1237.2,126 a6.5,6.5 0 1 0 13,0 a6.5,6.5 0 1 0 -13,0 Z" fill-rule="nonzero"/>
<path d="M1247,129.2 L1248.4,127.9 L1250.4,126.3 L1252.7,124.3 L1255.1,122.3 L1257.7,120.2 L1260.3,118.2 L1262.7,116.5 L1264.9,115.1 L1266.8,114.1 L1268.7,113.2 L1270.7,112.4 L1272.7,111.7 L1274.8,111 L1276.9,110.3 L1279.3,109.6 L1281.7,108.9 L1284.1,108.2 L1286.6,107.5 L1289.3,106.8 L1291.9,106.1 L1294.7,105.4 L1297.4,104.7 L1300.2,104 L1302.9,103.2 L1305.4,102.5 L1307.9,101.7 L1310.3,101 L1312.8,100.3 L1315.3,99.5 L1317.8,98.6 L1320.5,97.7 L1323.2,96.7 L1326.2,95.3 L1329.4,93.8 L1332.8,92.1 L1336.2,90.4 L1339.4,88.8 L1342.3,87.2 L1344.7,85.9 L1346.5,84.9 L1345.5,82.5 L1345.5,82.5 L1343.5,83 L1340.9,83.7 L1337.8,84.6 L1334.3,85.6 L1330.7,86.7 L1327.2,87.7 L1323.8,88.6 L1320.8,89.3 L1318.1,90 L1315.5,90.7 L1313,91.2 L1310.6,91.8 L1308.1,92.3 L1305.7,92.7 L1303.1,93.2 L1300.5,93.8 L1297.9,94.3 L1295.2,94.9 L1292.5,95.4 L1289.7,95.9 L1286.9,96.5 L1284.1,97 L1281.4,97.6 L1278.7,98.3 L1276.3,98.9 L1273.9,99.5 L1271.6,100.2 L1269.2,100.8 L1266.8,101.6 L1264.3,102.5 L1261.8,103.6 L1259.1,104.9 L1256.3,106.5 L1253.4,108.4 L1250.5,110.4 L1247.6,112.5 L1244.9,114.5 L1242.5,116.4 L1240.5,117.8 L1239,118.8 Z M1236.5,124 a6.5,6.5 0 1 0 13,0 a6.5,6.5 0 1 0 -13,0 Z M1344.8,83.7 a1.2,1.2 0 1 0 2.5,0 a1.2,1.2 0 1 0 -2.5,0 Z" fill-rule="nonzero"/>
<path d="M1314.1,98.4 L1314.7,97.9 L1315.4,97.3 L1316.4,96.5 L1317.6,95.5 L1318.9,94.3 L1320.2,92.9 L1321.4,91.3 L1322.6,89.4 L1323.4,87.2 L1324.2,84.7 L1325,81.9 L1325.7,79.1 L1326.3,76.4 L1326.9,74 L1327.3,71.9 L1327.6,70.4 L1325.2,69.6 L1325.2,69.6 L1324.5,71 L1323.7,73 L1322.7,75.3 L1321.7,77.9 L1320.6,80.4 L1319.5,82.9 L1318.4,85 L1317.4,86.6 L1316.6,87.8 L1315.7,88.9 L1314.7,89.9 L1313.6,90.8 L1312.6,91.6 L1311.5,92.3 L1310.6,93 L1309.9,93.6 Z M1308.8,96 a3.2,3.2 0 1 0 6.5,0 a3.2,3.2 0 1 0 -6.5,0 Z M1325.2,70 a1.2,1.2 0 1 0 2.5,0 a1.2,1.2 0 1 0 -2.5,0 Z" fill-rule="nonzero"/>
<path d="M1240.5,167.5 L1241.9,166.5 L1243.7,165.2 L1245.9,163.7 L1248.3,162 L1250.7,160.4 L1253.2,158.8 L1255.5,157.4 L1257.5,156.3 L1259.3,155.5 L1261.2,154.8 L1263.1,154.1 L1265.1,153.5 L1267.2,152.9 L1269.3,152.3 L1271.6,151.5 L1273.9,150.7 L1276,149.9 L1278.2,149 L1280.4,148.2 L1282.8,147.3 L1285.1,146.2 L1287.5,145.1 L1289.8,143.8 L1292.1,142.2 L1294.3,140.2 L1296.1,138.2 L1297.7,136.1 L1299.2,134 L1300.5,132.1 L1301.8,130.4 L1303.1,128.9 L1304.5,127.6 L1306.2,126.2 L1308.2,124.8 L1310.3,123.3 L1312.5,122 L1314.7,120.8 L1316.9,119.7 L1318.9,118.8 L1320.6,118.2 L1322.3,117.7 L1324,117.5 L1325.9,117.4 L1327.8,117.5 L1329.7,117.7 L1331.4,117.9 L1332.9,118 L1334.1,118 L1334.5,115.6 L1334.5,115.6 L1333.6,115.1 L1332.3,114.5 L1330.6,113.8 L1328.8,113.1 L1326.6,112.5 L1324.3,112 L1321.9,111.7 L1319.4,111.8 L1316.9,112.3 L1314.3,113 L1311.7,113.9 L1309,115 L1306.4,116.2 L1303.8,117.5 L1301.3,118.9 L1298.9,120.4 L1296.7,122.2 L1294.7,124.2 L1292.9,126.2 L1291.4,128.2 L1289.9,130 L1288.6,131.5 L1287.2,132.8 L1285.9,133.8 L1284.4,134.8 L1282.7,135.7 L1280.8,136.5 L1278.8,137.3 L1276.7,138.1 L1274.5,138.8 L1272.3,139.5 L1270.1,140.3 L1268.1,141 L1266.2,141.5 L1264.2,142 L1262.1,142.5 L1259.8,143.1 L1257.5,143.8 L1255,144.7 L1252.5,145.7 L1249.9,147 L1247.1,148.4 L1244.3,150 L1241.6,151.6 L1239.1,153.2 L1236.8,154.6 L1234.9,155.7 L1233.5,156.5 Z M1230.5,162 a6.5,6.5 0 1 0 13,0 a6.5,6.5 0 1 0 -13,0 Z M1333,116.8 a1.2,1.2 0 1 0 2.5,0 a1.2,1.2 0 1 0 -2.5,0 Z" fill-rule="nonzero"/>
<path d="M1235.5,485.5 L1234.7,486.5 L1233.6,487.9 L1232.3,489.6 L1230.9,491.3 L1229.4,493.1 L1228,494.7 L1226.7,496.2 L1225.7,497.2 L1225.2,497.7 L1224.9,497.9 L1224.3,498.2 L1223.4,498.6 L1221.9,499.3 L1220.2,500.4 L1218.4,501.9 L1216.6,503.8 L1214.8,506.1 L1213.2,508.7 L1211.7,511.4 L1210.2,514.1 L1208.7,516.7 L1207.1,519.2 L1205.5,521.3 L1203.9,523 L1202,524.6 L1199.9,526.2 L1197.5,527.6 L1194.8,529.1 L1192,530.5 L1189,532 L1186,533.5 L1182.9,535.1 L1179.8,536.7 L1176.3,538.5 L1172.7,540.4 L1169,542.2 L1165.6,543.9 L1162.4,545.4 L1159.8,546.8 L1157.9,547.8 L1161.1,554.8 L1161.1,554.8 L1163.2,554 L1165.9,552.8 L1169.1,551.5 L1172.6,549.9 L1176.4,548.3 L1180.2,546.7 L1183.8,545 L1187.1,543.5 L1190.1,542.2 L1193.1,540.9 L1196.2,539.7 L1199.3,538.4 L1202.4,536.9 L1205.4,535.3 L1208.4,533.5 L1211.3,531.4 L1214,528.7 L1216.3,525.9 L1218.4,522.9 L1220.2,520 L1221.8,517.3 L1223.3,514.8 L1224.6,512.9 L1225.6,511.6 L1226.5,510.9 L1227,510.5 L1227.5,510.3 L1228.1,510.1 L1229.1,509.8 L1230.6,509.2 L1232.5,508.2 L1234.3,506.8 L1235.9,505.3 L1237.6,503.6 L1239.3,501.8 L1240.9,500 L1242.5,498.2 L1243.9,496.7 L1245,495.4 L1245.9,494.5 Z M1233.8,490 a6.9,6.9 0 1 0 13.7,0 a6.9,6.9 0 1 0 -13.7,0 Z M1155.6,551.3 a3.9,3.9 0 1 0 7.7,0 a3.9,3.9 0 1 0 -7.7,0 Z" fill-rule="nonzero"/>
<path d="M1220.2,502.6 L1218.1,503.1 L1215.3,503.7 L1212,504.4 L1208.3,505.1 L1204.4,505.9 L1200.5,506.6 L1196.7,507.3 L1193.4,508 L1190.1,508.5 L1186.7,509 L1183.2,509.5 L1179.8,509.9 L1176.6,510.4 L1173.8,510.8 L1171.4,511.1 L1169.5,511.4 L1170.5,519 L1170.5,519 L1172.3,518.9 L1174.7,518.6 L1177.6,518.4 L1180.8,518 L1184.2,517.7 L1187.8,517.3 L1191.3,516.9 L1194.6,516.4 L1198.1,516 L1201.9,515.5 L1205.9,515 L1209.8,514.4 L1213.6,513.9 L1217,513.4 L1219.8,513 L1222,512.8 Z M1216,507.7 a5.1,5.1 0 1 0 10.3,0 a5.1,5.1 0 1 0 -10.3,0 Z M1166.1,515.2 a3.9,3.9 0 1 0 7.7,0 a3.9,3.9 0 1 0 -7.7,0 Z" fill-rule="nonzero"/>
<path d="M1206.9,526.4 L1206.8,527.3 L1206.6,528.7 L1206.2,530.6 L1205.8,532.8 L1205.5,535.2 L1205.3,537.9 L1205.5,540.7 L1206,543.5 L1207,546.2 L1208.3,548.8 L1209.8,551.3 L1211.3,553.7 L1213,556.1 L1214.6,558.4 L1216,560.5 L1217.3,562.5 L1218.6,564.6 L1220,566.8 L1221.4,568.9 L1222.7,571 L1224,573 L1225.1,574.7 L1226.1,576.2 L1226.8,577.3 L1233.4,573.3 L1233.4,573.3 L1232.7,572.1 L1231.9,570.6 L1230.8,568.8 L1229.7,566.8 L1228.4,564.7 L1227.2,562.5 L1225.9,560.2 L1224.7,558.1 L1223.3,555.8 L1221.9,553.5 L1220.4,551.2 L1218.9,548.9 L1217.6,546.6 L1216.5,544.5 L1215.7,542.7 L1215.2,541.1 L1215,539.7 L1215,538.1 L1215.2,536.3 L1215.5,534.5 L1215.9,532.7 L1216.4,531 L1216.8,529.3 L1217.1,528 Z M1206.9,527.2 a5.1,5.1 0 1 0 10.3,0 a5.1,5.1 0 1 0 -10.3,0 Z M1226.2,575.3 a3.9,3.9 0 1 0 7.7,0 a3.9,3.9 0 1 0 -7.7,0 Z" fill-rule="nonzero"/>
<path d="M1234.8,493.5 L1235.9,495.3 L1237.4,497.7 L1239.2,500.7 L1241.2,503.9 L1243.2,507.3 L1245.3,510.5 L1247.2,513.5 L1248.9,515.9 L1250.4,517.8 L1251.7,519.3 L1252.9,520.7 L1254.1,521.8 L1255.4,522.9 L1256.6,523.8 L1258,524.8 L1259.5,525.9 L1261.3,527.2 L1263.3,528.6 L1265.4,530.1 L1267.8,531.7 L1270.3,533.2 L1273,534.8 L1275.9,536.4 L1279,537.8 L1282.5,539.3 L1286.5,540.7 L1290.8,542.1 L1295.1,543.5 L1299.3,544.8 L1303.1,545.9 L1306.2,546.8 L1308.5,547.4 L1311.1,540.2 L1311.1,540.2 L1308.8,539.2 L1305.8,538 L1302.1,536.6 L1298.1,535 L1294,533.4 L1290,531.7 L1286.4,530.1 L1283.4,528.6 L1280.9,527.1 L1278.5,525.6 L1276.3,524.1 L1274.2,522.5 L1272.2,521 L1270.3,519.4 L1268.6,517.9 L1266.9,516.5 L1265.4,515.2 L1264.2,514.3 L1263.4,513.5 L1262.7,512.8 L1262.1,512.2 L1261.4,511.3 L1260.6,510.1 L1259.5,508.5 L1258.1,506.3 L1256.4,503.6 L1254.5,500.5 L1252.6,497.1 L1250.8,493.9 L1249.1,490.9 L1247.6,488.3 L1246.6,486.5 Z M1233.8,490 a6.9,6.9 0 1 0 13.7,0 a6.9,6.9 0 1 0 -13.7,0 Z M1305.9,543.8 a3.9,3.9 0 1 0 7.7,0 a3.9,3.9 0 1 0 -7.7,0 Z" fill-rule="nonzero"/>
<path d="M1265.9,523.3 L1267,523.3 L1268.4,523.3 L1270.1,523.3 L1272,523.3 L1274,523.3 L1276,523.3 L1278,523.3 L1279.8,523.3 L1281.5,523.3 L1283.4,523.4 L1285.4,523.4 L1287.2,523.5 L1289,523.5 L1290.6,523.5 L1292,523.6 L1293,523.6 L1293.4,515.8 L1293.4,515.8 L1292.4,515.7 L1291,515.6 L1289.5,515.5 L1287.7,515.3 L1285.8,515.2 L1283.9,515 L1282,514.9 L1280.2,514.7 L1278.5,514.5 L1276.5,514.3 L1274.5,514.1 L1272.6,513.8 L1270.7,513.6 L1269,513.4 L1267.6,513.2 L1266.5,513.1 Z M1261.1,518.2 a5.1,5.1 0 1 0 10.3,0 a5.1,5.1 0 1 0 -10.3,0 Z M1289.3,519.7 a3.9,3.9 0 1 0 7.7,0 a3.9,3.9 0 1 0 -7.7,0 Z" fill-rule="nonzero"/>
<path d="M1253.9,525.3 L1253.4,526.8 L1252.9,528.7 L1252.2,530.9 L1251.5,533.2 L1250.7,535.6 L1249.8,537.7 L1248.9,539.6 L1248,541 L1246.9,542.1 L1245.3,543.3 L1243.4,544.6 L1241.4,545.7 L1239.3,546.8 L1237.4,547.8 L1235.7,548.7 L1234.4,549.4 L1238,556.2 L1238,556.2 L1239.2,555.7 L1240.8,554.9 L1242.8,554 L1245.1,553 L1247.5,551.7 L1250,550.3 L1252.3,548.6 L1254.4,546.6 L1256.2,544.4 L1257.8,541.8 L1259.1,539.2 L1260.3,536.6 L1261.3,534.2 L1262.2,532 L1262.9,530.3 L1263.5,529.1 Z M1253.6,527.2 a5.1,5.1 0 1 0 10.3,0 a5.1,5.1 0 1 0 -10.3,0 Z M1232.3,552.8 a3.9,3.9 0 1 0 7.7,0 a3.9,3.9 0 1 0 -7.7,0 Z" fill-rule="nonzero"/>
<path d="M1270.2,532.1 L1269.9,534.1 L1269.5,536.6 L1269,539.6 L1268.4,542.9 L1267.8,546.2 L1267,549.6 L1266.2,552.8 L1265.2,555.6 L1264,558.4 L1262.4,561.5 L1260.6,564.7 L1258.6,567.9 L1256.7,570.9 L1255,573.6 L1253.5,575.9 L1252.4,577.7 L1259,581.9 L1259,581.9 L1260.1,580.2 L1261.6,578 L1263.5,575.3 L1265.5,572.3 L1267.6,569 L1269.7,565.6 L1271.6,562.3 L1273.2,559 L1274.5,555.6 L1275.7,552 L1276.7,548.4 L1277.7,544.8 L1278.5,541.5 L1279.1,538.5 L1279.7,536.1 L1280.2,534.3 Z M1270.1,533.2 a5.1,5.1 0 1 0 10.3,0 a5.1,5.1 0 1 0 -10.3,0 Z M1251.8,579.8 a3.9,3.9 0 1 0 7.7,0 a3.9,3.9 0 1 0 -7.7,0 Z" fill-rule="nonzero"/>
<circle cx="1159.5" cy="551.3" r="5.9"/>
<circle cx="1170" cy="515.2" r="5.9"/>
<circle cx="1230.1" cy="575.3" r="5.9"/>
<circle cx="1309.8" cy="543.8" r="5.9"/>
<circle cx="1293.2" cy="519.7" r="5.9"/>
<circle cx="1236.2" cy="552.8" r="5.9"/>
<circle cx="1255.7" cy="579.8" r="5.9"/>
<path d="M1240.3,399.7 L1242,398.1 L1244.3,395.9 L1247,393.3 L1250,390.5 L1253.2,387.5 L1256.3,384.6 L1259.4,381.8 L1262.1,379.4 L1264.7,377.3 L1267.3,375.2 L1269.9,373.3 L1272.5,371.3 L1275.1,369.4 L1277.7,367.4 L1280.1,365.4 L1282.5,363.4 L1284.6,361.4 L1286.7,359.4 L1288.7,357.4 L1290.6,355.3 L1292.4,353.3 L1294.1,351.2 L1295.7,349 L1297.3,346.7 L1298.8,344.3 L1300.2,341.7 L1301.4,339 L1302.6,336.4 L1303.6,333.9 L1304.6,331.5 L1305.4,329.4 L1306.2,327.5 L1306.9,325.8 L1307.5,324.2 L1308.1,322.8 L1308.5,321.5 L1308.8,320.4 L1309.1,319.5 L1309.4,318.8 L1309.6,318.3 L1301.4,315.7 L1301.4,315.7 L1301.3,316.4 L1301.1,317.3 L1300.8,318.1 L1300.6,319.1 L1300.3,320.3 L1299.9,321.5 L1299.4,322.9 L1298.8,324.5 L1298,326.4 L1297.2,328.6 L1296.3,330.9 L1295.3,333.3 L1294.3,335.8 L1293.1,338.2 L1292,340.4 L1290.7,342.5 L1289.4,344.4 L1287.9,346.3 L1286.4,348.2 L1284.7,350 L1283,351.8 L1281.1,353.7 L1279.2,355.5 L1277.1,357.4 L1275,359.2 L1272.7,361 L1270.3,362.8 L1267.7,364.7 L1265,366.6 L1262.3,368.5 L1259.5,370.6 L1256.7,372.8 L1253.7,375.2 L1250.5,377.9 L1247.1,380.7 L1243.8,383.6 L1240.7,386.3 L1237.8,388.8 L1235.5,390.8 L1233.7,392.3 Z M1232,396 a5,5 0 1 0 10,0 a5,5 0 1 0 -10,0 Z M1301.2,317 a4.2,4.2 0 1 0 8.5,0 a4.2,4.2 0 1 0 -8.5,0 Z"/>
<circle cx="1306" cy="315.5" r="5.9"/></g>
<g fill="#b5a6cb" transform="translate(2630,-4) scale(-1,1)"><path d="M1229,160 L1228.2,162 L1227.8,164.8 L1227.8,168.2 L1228,171.6 L1228.3,175 L1228.6,177.9 L1228.9,180.3 L1229.3,182.4 L1229.8,184.4 L1230.4,186.4 L1230.8,188.5 L1231.2,190.7 L1231.4,193.1 L1231.6,195.7 L1231.8,198.3 L1231.9,200.9 L1231.9,203.6 L1231.8,206.2 L1231.6,208.9 L1231.3,211.7 L1230.9,214.6 L1230.5,217.3 L1230.2,219.8 L1229.8,222 L1229.5,223.7 L1229.3,225 L1229.1,226.1 L1228.9,227.1 L1228.5,228.4 L1228,230 L1227.3,232.1 L1226.6,234.5 L1225.7,237.1 L1224.7,239.7 L1223.6,242.4 L1222.5,245 L1221.3,247.5 L1219.9,250 L1218.5,252.5 L1217,255 L1215.5,257.5 L1214,260 L1212.5,262.5 L1210.9,265 L1209.4,267.5 L1207.9,270 L1206.5,272.5 L1205.3,275 L1204.2,277.5 L1203.3,280 L1202.4,282.5 L1201.7,285 L1201.3,287.5 L1201.2,290 L1201.5,292.5 L1202,295 L1202.9,297.5 L1203.9,300 L1205,302.5 L1206.2,305 L1207.5,307.5 L1208.9,310 L1210.4,312.5 L1212,315 L1213.7,317.5 L1215.4,320 L1217.3,322.5 L1219.3,325 L1221.4,327.5 L1223.5,330 L1225.3,332.5 L1226.8,335 L1227.9,337.5 L1228.8,340 L1229.4,342.5 L1229.9,345 L1230.3,347.5 L1230.6,350 L1230.9,352.3 L1231,354.3 L1231,356.2 L1231,358.5 L1231,361.3 L1231,365 L1231.1,369.6 L1231.1,375 L1231.2,380.9 L1231.3,387.2 L1231.4,393.6 L1231.5,400 L1231.7,406.5 L1231.9,413.3 L1232.1,420.3 L1232.4,427.2 L1232.7,433.9 L1233,440 L1233.4,445.7 L1233.8,451 L1234.3,456.1 L1234.8,461 L1235.2,465.6 L1235.5,470 L1235.6,474.4 L1235.5,478.7 L1235.3,482.9 L1235.3,486.6 L1235.4,489.7 L1236,492 L1237.1,493.5 L1238.7,494.4 L1240.5,494.8 L1242.3,494.4 L1243.9,493.5 L1245,492 L1245.6,489.7 L1245.9,486.6 L1246,482.9 L1245.9,478.7 L1245.7,474.4 L1245.5,470 L1245.2,465.6 L1244.9,461 L1244.4,456.1 L1243.9,451 L1243.4,445.7 L1243,440 L1242.7,433.9 L1242.4,427.2 L1242.2,420.3 L1241.9,413.3 L1241.7,406.5 L1241.5,400 L1241.3,393.6 L1241,387.2 L1240.8,380.9 L1240.6,375 L1240.4,369.6 L1240.3,365 L1240.2,361.3 L1240.1,358.5 L1240,356.2 L1239.9,354.3 L1239.9,352.3 L1240,350 L1240,347.5 L1239.9,345 L1239.9,342.5 L1240.1,340 L1240.5,337.5 L1241.4,335 L1242.9,332.4 L1244.9,329.8 L1247.2,327.2 L1249.6,324.6 L1251.8,322.2 L1253.8,320 L1255.4,318.1 L1257,316.4 L1258.4,314.8 L1259.7,313.3 L1260.9,311.7 L1262,310 L1263.1,308.1 L1264.1,306.2 L1265,304.2 L1265.8,302.1 L1266.5,300.1 L1267,298 L1267.3,295.9 L1267.5,293.6 L1267.5,291.4 L1267.5,289.1 L1267.3,287 L1267,285 L1266.6,283.2 L1266.2,281.6 L1265.6,280.1 L1265,278.6 L1264.1,276.9 L1263.2,275 L1262,272.8 L1260.7,270.4 L1259.2,267.8 L1257.6,265.2 L1256.1,262.6 L1254.7,260 L1253.3,257.5 L1251.9,255 L1250.5,252.5 L1249.2,250 L1248,247.5 L1247,245 L1246.1,242.5 L1245.4,239.9 L1244.9,237.3 L1244.4,234.8 L1243.9,232.3 L1243.5,230 L1243.1,227.8 L1242.9,225.8 L1242.7,223.8 L1242.5,221.9 L1242.3,220 L1242.1,218 L1241.9,216.1 L1241.6,214.2 L1241.4,212.3 L1241.2,210.4 L1241,208.4 L1240.8,206.2 L1240.7,203.8 L1240.6,201.2 L1240.5,198.5 L1240.4,195.8 L1240.4,193.2 L1240.4,190.7 L1240.4,188.5 L1240.4,186.4 L1240.5,184.4 L1240.6,182.4 L1240.7,180.3 L1240.8,177.9 L1241.1,175 L1241.7,171.6 L1242.2,168.2 L1242.6,164.8 L1242.6,162 L1242,160 L1240.5,158.8 L1238.3,158 L1235.6,157.8 L1232.9,158 L1230.6,158.8 Z"/>
<path d="M1142.8,81.9 L1144.1,83 L1145.9,84.2 L1148.1,85.7 L1150.5,87.3 L1153.1,89 L1155.6,90.7 L1158.1,92.3 L1160.4,93.9 L1162.7,95.3 L1165.1,96.7 L1167.5,98.1 L1169.7,99.4 L1171.9,100.7 L1173.8,102.1 L1175.4,103.3 L1176.7,104.6 L1177.6,105.7 L1178.4,106.8 L1179,108 L1179.5,109.2 L1180,110.6 L1180.6,112.3 L1181.2,114.1 L1181.8,116 L1182.4,117.8 L1182.9,119.7 L1183.4,121.9 L1183.9,124.2 L1184.5,126.7 L1185.3,129.4 L1186.2,132.1 L1187.4,134.8 L1188.8,137.3 L1190.3,139.7 L1191.9,142 L1193.6,144.3 L1195.4,146.6 L1197.2,148.8 L1199.1,150.9 L1201,153.1 L1203,155.3 L1205.2,157.5 L1207.5,159.6 L1209.7,161.6 L1211.9,163.6 L1213.9,165.5 L1215.8,167.3 L1217.4,169 L1218.9,170.7 L1220.6,172.5 L1222.2,174.5 L1223.7,176.4 L1225.1,178.2 L1226.4,179.9 L1227.5,181.3 L1228.4,182.4 L1239.6,173.6 L1239.6,173.6 L1238.8,172.5 L1237.7,171.1 L1236.4,169.5 L1234.9,167.5 L1233.3,165.5 L1231.5,163.3 L1229.6,161.1 L1227.6,159 L1225.5,157 L1223.2,155.1 L1220.9,153.2 L1218.6,151.3 L1216.4,149.5 L1214.2,147.7 L1212.3,145.9 L1210.4,144.1 L1208.7,142.3 L1206.9,140.3 L1205.2,138.4 L1203.6,136.5 L1202.1,134.6 L1200.7,132.7 L1199.4,130.8 L1198.4,129 L1197.4,127.3 L1196.6,125.4 L1195.9,123.4 L1195.2,121.2 L1194.6,118.9 L1193.9,116.6 L1193.1,114.2 L1192.2,112 L1191.3,110.2 L1190.6,108.4 L1189.8,106.7 L1189,104.9 L1187.9,103 L1186.7,101.1 L1185.2,99.2 L1183.3,97.4 L1181.2,95.8 L1178.9,94.3 L1176.4,93 L1173.9,91.7 L1171.4,90.5 L1168.9,89.3 L1166.4,88.2 L1164,87.1 L1161.5,86 L1158.6,84.9 L1155.7,83.8 L1152.9,82.7 L1150.1,81.7 L1147.7,80.8 L1145.6,80.1 L1144,79.7 Z M1142.2,80.8 a1.2,1.2 0 1 0 2.5,0 a1.2,1.2 0 1 0 -2.5,0 Z M1226.8,178 a7.2,7.2 0 1 0 14.3,0 a7.2,7.2 0 1 0 -14.3,0 Z" fill-rule="nonzero"/>
<path d="M1158.4,59.9 L1159.5,60.9 L1161.1,62.1 L1163,63.5 L1165.1,65 L1167.2,66.5 L1169.3,68.1 L1171,69.7 L1172.3,71.2 L1173.6,72.4 L1174.9,73.8 L1176,75.1 L1177,76.5 L1178,77.9 L1178.8,79.4 L1179.5,81 L1180.2,82.6 L1180.8,84.4 L1181.4,86.4 L1181.8,88.6 L1182.2,90.9 L1182.6,93.3 L1182.8,95.7 L1183,98 L1183.1,100.2 L1183.1,102.3 L1183,104.5 L1182.7,106.8 L1182.5,109.1 L1182.1,111.3 L1181.8,113.3 L1181.5,115.1 L1181.3,116.4 L1191.7,117.6 L1191.7,117.6 L1191.8,116.4 L1192,114.7 L1192.2,112.6 L1192.5,110.3 L1192.7,107.8 L1192.9,105.1 L1192.9,102.4 L1192.9,99.8 L1192.7,97.3 L1192.5,94.8 L1192.2,92.1 L1191.9,89.4 L1191.4,86.7 L1190.8,84 L1190.1,81.5 L1189.2,79 L1188.1,76.8 L1187,74.7 L1185.7,72.8 L1184.2,70.9 L1182.7,69.2 L1181.2,67.6 L1179.5,66.1 L1177.7,64.6 L1175.4,63.4 L1172.9,62.2 L1170.3,61.1 L1167.7,60.1 L1165.2,59.3 L1162.9,58.6 L1161,58 L1159.6,57.7 Z M1157.8,58.8 a1.2,1.2 0 1 0 2.5,0 a1.2,1.2 0 1 0 -2.5,0 Z M1181.3,117 a5.2,5.2 0 1 0 10.4,0 a5.2,5.2 0 1 0 -10.4,0 Z" fill-rule="nonzero"/>
<path d="M1196.8,85 L1197.4,85.9 L1198.3,87 L1199.4,88.2 L1200.5,89.4 L1201.6,90.8 L1202.5,92.2 L1203.2,93.8 L1203.8,95.4 L1204.6,97.4 L1205.4,99.9 L1206.2,102.8 L1206.9,105.8 L1207.6,108.8 L1208,111.7 L1208.3,114.4 L1208.4,116.5 L1208.3,118 L1207.9,119.4 L1207.4,120.8 L1206.7,122.2 L1205.9,123.7 L1205,125.3 L1204.1,127.1 L1203.3,129 L1202.7,130.8 L1202.1,132.5 L1201.6,134.3 L1201.1,135.9 L1200.6,137.5 L1200.2,138.8 L1199.9,139.9 L1199.6,140.8 L1208.4,143.2 L1208.4,143.2 L1208.6,142.3 L1208.9,141.1 L1209.2,139.7 L1209.6,138.2 L1210,136.6 L1210.4,135 L1210.8,133.3 L1211.3,131.8 L1211.8,130.6 L1212.4,129.3 L1213.3,127.8 L1214.2,126.1 L1215.2,124.1 L1216,121.9 L1216.6,119.3 L1216.8,116.5 L1216.6,113.6 L1216.2,110.5 L1215.6,107.2 L1214.8,103.9 L1214,100.6 L1213,97.5 L1211.9,94.6 L1210.8,92 L1209.2,89.8 L1207.4,88 L1205.6,86.6 L1203.8,85.4 L1202.1,84.6 L1200.6,83.9 L1199.3,83.4 L1198.4,83 Z M1196.3,84 a1.2,1.2 0 1 0 2.5,0 a1.2,1.2 0 1 0 -2.5,0 Z M1199.5,142 a4.5,4.5 0 1 0 9.1,0 a4.5,4.5 0 1 0 -9.1,0 Z" fill-rule="nonzero"/>
<path d="M1235.2,34.9 L1234.2,35.7 L1233,36.7 L1231.5,38.1 L1229.9,39.6 L1228.2,41.2 L1226.6,43 L1224.9,44.9 L1223.5,46.9 L1222.3,48.9 L1221.1,51.1 L1220,53.3 L1218.9,55.6 L1217.9,57.9 L1217,60.3 L1216.3,62.7 L1215.6,65 L1215.2,67.2 L1215,69.5 L1214.9,71.6 L1214.9,73.8 L1215,75.8 L1215.3,77.9 L1215.6,79.9 L1216,81.9 L1216.4,83.9 L1217,85.9 L1217.6,87.7 L1218.3,89.5 L1219.1,91.3 L1219.9,93.1 L1220.7,95 L1221.6,97.1 L1222.7,99.6 L1224.1,102.4 L1225.5,105.4 L1226.9,108.4 L1228.4,111.4 L1229.7,114.2 L1230.8,116.7 L1231.6,118.9 L1232.2,120.6 L1232.7,122.1 L1233.1,123.3 L1233.3,124.3 L1233.4,125.1 L1233.5,126 L1233.5,127 L1233.5,128.1 L1233.5,129.1 L1233.3,129.9 L1233.2,130.7 L1232.9,131.7 L1232.6,133 L1232.2,134.6 L1231.7,136.6 L1231.3,138.9 L1230.8,141.6 L1230.2,144.8 L1229.6,148.4 L1229,152.1 L1228.4,155.8 L1227.8,159.1 L1227.3,161.9 L1226.9,163.9 L1241.1,166.1 L1241.1,166.1 L1241.3,164.1 L1241.7,161.3 L1242.2,158 L1242.8,154.4 L1243.3,150.6 L1243.9,147 L1244.3,143.8 L1244.7,141.1 L1245,139.1 L1245.3,137.5 L1245.6,136 L1245.9,134.6 L1246.2,133.1 L1246.4,131.5 L1246.5,129.7 L1246.5,127.9 L1246.4,126.2 L1246.2,124.7 L1246,123.1 L1245.6,121.5 L1245.2,119.8 L1244.6,118.1 L1243.9,116.2 L1243,114.1 L1241.9,111.7 L1240.5,109 L1239,106.1 L1237.4,103.1 L1235.7,100.1 L1234.2,97.3 L1232.8,94.6 L1231.6,92.3 L1230.5,90.2 L1229.5,88.3 L1228.5,86.6 L1227.7,85.1 L1227,83.8 L1226.4,82.5 L1225.9,81.1 L1225.4,79.7 L1225.1,78.1 L1224.8,76.5 L1224.5,74.9 L1224.3,73.2 L1224.2,71.6 L1224.2,70 L1224.4,68.3 L1224.6,66.6 L1224.8,64.8 L1225.3,62.8 L1225.8,60.7 L1226.5,58.5 L1227.3,56.4 L1228.1,54.2 L1228.9,52.2 L1229.7,50.3 L1230.5,48.4 L1231.5,46.5 L1232.5,44.5 L1233.7,42.6 L1234.8,40.8 L1235.8,39.1 L1236.6,37.6 L1237.2,36.5 Z M1235,35.7 a1.2,1.2 0 1 0 2.5,0 a1.2,1.2 0 1 0 -2.5,0 Z M1226.8,165 a7.2,7.2 0 1 0 14.3,0 a7.2,7.2 0 1 0 -14.3,0 Z" fill-rule="nonzero"/>
<path d="M1242,41 L1242,42.1 L1242.2,43.4 L1242.4,45 L1242.7,46.7 L1242.9,48.4 L1243.1,50.2 L1243.2,51.9 L1243.1,53.5 L1243.3,55.2 L1243.5,57 L1243.6,58.8 L1243.6,60.6 L1243.6,62.2 L1243.4,63.8 L1243.1,65.2 L1242.7,66.4 L1242.2,67.5 L1241.4,68.7 L1240.3,70.1 L1239,71.5 L1237.7,73.1 L1236.2,74.6 L1234.7,76.2 L1233.4,77.9 L1232.2,79.5 L1231,81 L1229.9,82.6 L1228.8,84.1 L1227.8,85.5 L1226.9,86.7 L1226.1,87.8 L1225.5,88.5 L1234.1,94.5 L1234.1,94.5 L1234.6,93.6 L1235.3,92.5 L1236.1,91.3 L1237.1,89.8 L1238.1,88.3 L1239.1,86.7 L1240.2,85.2 L1241.2,83.7 L1242.2,82.4 L1243.4,81 L1244.7,79.4 L1246.2,77.7 L1247.7,75.9 L1249,73.9 L1250.3,71.8 L1251.3,69.4 L1251.9,67 L1252.1,64.7 L1252.2,62.4 L1252.1,60.2 L1251.8,58 L1251.5,56 L1251.2,54.1 L1250.9,52.3 L1250.2,50.4 L1249.3,48.5 L1248.5,46.7 L1247.5,45 L1246.6,43.4 L1245.8,42.1 L1245,41 L1244.4,40.2 Z M1242,40.6 a1.2,1.2 0 1 0 2.5,0 a1.2,1.2 0 1 0 -2.5,0 Z M1224.6,91.5 a5.2,5.2 0 1 0 10.4,0 a5.2,5.2 0 1 0 -10.4,0 Z" fill-rule="nonzero"/>
<path d="M1264.2,44.6 L1264.7,45.8 L1265.5,47.3 L1266.5,49.1 L1267.6,51.1 L1268.7,53.1 L1269.8,55.2 L1270.7,57.2 L1271.3,59 L1272.1,60.8 L1272.8,62.7 L1273.5,64.7 L1274.1,66.7 L1274.6,68.6 L1275,70.5 L1275.2,72.2 L1275.4,73.8 L1275.4,75.3 L1275.4,76.8 L1275.2,78.2 L1275,79.6 L1274.7,81 L1274.3,82.4 L1273.8,83.8 L1273.2,85.3 L1272.5,86.6 L1271.9,87.9 L1271.1,89.2 L1270.2,90.4 L1269.3,91.8 L1268.1,93.2 L1266.8,94.7 L1265.4,96.3 L1263.7,98.1 L1261.7,100 L1259.4,102.1 L1257,104.3 L1254.6,106.4 L1252.3,108.6 L1250.1,110.5 L1248.2,112.4 L1246.5,114 L1244.9,115.5 L1243.5,116.9 L1242.3,118.2 L1241.2,119.3 L1240.2,120.3 L1239.5,121.1 L1238.8,121.7 L1248.6,130.3 L1248.6,130.3 L1249.1,129.5 L1249.8,128.6 L1250.6,127.5 L1251.6,126.4 L1252.6,125.1 L1253.8,123.7 L1255,122.2 L1256.4,120.6 L1258.1,119 L1260.1,117 L1262.4,114.9 L1264.8,112.6 L1267.2,110.3 L1269.5,108 L1271.7,105.8 L1273.6,103.7 L1275.2,101.8 L1276.6,99.9 L1278,98.2 L1279.1,96.4 L1280.2,94.7 L1281.2,92.9 L1282.1,91 L1282.8,89.1 L1283.5,87.2 L1284.1,85.3 L1284.6,83.3 L1284.9,81.3 L1285.2,79.2 L1285.3,77.1 L1285.2,75 L1285,72.8 L1284.6,70.5 L1284,68.3 L1283.2,66 L1282.4,63.8 L1281.4,61.6 L1280.4,59.4 L1279.4,57.4 L1278.3,55.4 L1276.8,53.5 L1275.2,51.5 L1273.4,49.7 L1271.7,47.9 L1270,46.3 L1268.5,45 L1267.2,43.8 L1266.2,43 Z M1264,43.8 a1.2,1.2 0 1 0 2.5,0 a1.2,1.2 0 1 0 -2.5,0 Z M1237.2,126 a6.5,6.5 0 1 0 13,0 a6.5,6.5 0 1 0 -13,0 Z" fill-rule="nonzero"/>
<path d="M1247,129.2 L1248.4,127.9 L1250.4,126.3 L1252.7,124.3 L1255.1,122.3 L1257.7,120.2 L1260.3,118.2 L1262.7,116.5 L1264.9,115.1 L1266.8,114.1 L1268.7,113.2 L1270.7,112.4 L1272.7,111.7 L1274.8,111 L1276.9,110.3 L1279.3,109.6 L1281.7,108.9 L1284.1,108.2 L1286.6,107.5 L1289.3,106.8 L1291.9,106.1 L1294.7,105.4 L1297.4,104.7 L1300.2,104 L1302.9,103.2 L1305.4,102.5 L1307.9,101.7 L1310.3,101 L1312.8,100.3 L1315.3,99.5 L1317.8,98.6 L1320.5,97.7 L1323.2,96.7 L1326.2,95.3 L1329.4,93.8 L1332.8,92.1 L1336.2,90.4 L1339.4,88.8 L1342.3,87.2 L1344.7,85.9 L1346.5,84.9 L1345.5,82.5 L1345.5,82.5 L1343.5,83 L1340.9,83.7 L1337.8,84.6 L1334.3,85.6 L1330.7,86.7 L1327.2,87.7 L1323.8,88.6 L1320.8,89.3 L1318.1,90 L1315.5,90.7 L1313,91.2 L1310.6,91.8 L1308.1,92.3 L1305.7,92.7 L1303.1,93.2 L1300.5,93.8 L1297.9,94.3 L1295.2,94.9 L1292.5,95.4 L1289.7,95.9 L1286.9,96.5 L1284.1,97 L1281.4,97.6 L1278.7,98.3 L1276.3,98.9 L1273.9,99.5 L1271.6,100.2 L1269.2,100.8 L1266.8,101.6 L1264.3,102.5 L1261.8,103.6 L1259.1,104.9 L1256.3,106.5 L1253.4,108.4 L1250.5,110.4 L1247.6,112.5 L1244.9,114.5 L1242.5,116.4 L1240.5,117.8 L1239,118.8 Z M1236.5,124 a6.5,6.5 0 1 0 13,0 a6.5,6.5 0 1 0 -13,0 Z M1344.8,83.7 a1.2,1.2 0 1 0 2.5,0 a1.2,1.2 0 1 0 -2.5,0 Z" fill-rule="nonzero"/>
<path d="M1314.1,98.4 L1314.7,97.9 L1315.4,97.3 L1316.4,96.5 L1317.6,95.5 L1318.9,94.3 L1320.2,92.9 L1321.4,91.3 L1322.6,89.4 L1323.4,87.2 L1324.2,84.7 L1325,81.9 L1325.7,79.1 L1326.3,76.4 L1326.9,74 L1327.3,71.9 L1327.6,70.4 L1325.2,69.6 L1325.2,69.6 L1324.5,71 L1323.7,73 L1322.7,75.3 L1321.7,77.9 L1320.6,80.4 L1319.5,82.9 L1318.4,85 L1317.4,86.6 L1316.6,87.8 L1315.7,88.9 L1314.7,89.9 L1313.6,90.8 L1312.6,91.6 L1311.5,92.3 L1310.6,93 L1309.9,93.6 Z M1308.8,96 a3.2,3.2 0 1 0 6.5,0 a3.2,3.2 0 1 0 -6.5,0 Z M1325.2,70 a1.2,1.2 0 1 0 2.5,0 a1.2,1.2 0 1 0 -2.5,0 Z" fill-rule="nonzero"/>
<path d="M1240.5,167.5 L1241.9,166.5 L1243.7,165.2 L1245.9,163.7 L1248.3,162 L1250.7,160.4 L1253.2,158.8 L1255.5,157.4 L1257.5,156.3 L1259.3,155.5 L1261.2,154.8 L1263.1,154.1 L1265.1,153.5 L1267.2,152.9 L1269.3,152.3 L1271.6,151.5 L1273.9,150.7 L1276,149.9 L1278.2,149 L1280.4,148.2 L1282.8,147.3 L1285.1,146.2 L1287.5,145.1 L1289.8,143.8 L1292.1,142.2 L1294.3,140.2 L1296.1,138.2 L1297.7,136.1 L1299.2,134 L1300.5,132.1 L1301.8,130.4 L1303.1,128.9 L1304.5,127.6 L1306.2,126.2 L1308.2,124.8 L1310.3,123.3 L1312.5,122 L1314.7,120.8 L1316.9,119.7 L1318.9,118.8 L1320.6,118.2 L1322.3,117.7 L1324,117.5 L1325.9,117.4 L1327.8,117.5 L1329.7,117.7 L1331.4,117.9 L1332.9,118 L1334.1,118 L1334.5,115.6 L1334.5,115.6 L1333.6,115.1 L1332.3,114.5 L1330.6,113.8 L1328.8,113.1 L1326.6,112.5 L1324.3,112 L1321.9,111.7 L1319.4,111.8 L1316.9,112.3 L1314.3,113 L1311.7,113.9 L1309,115 L1306.4,116.2 L1303.8,117.5 L1301.3,118.9 L1298.9,120.4 L1296.7,122.2 L1294.7,124.2 L1292.9,126.2 L1291.4,128.2 L1289.9,130 L1288.6,131.5 L1287.2,132.8 L1285.9,133.8 L1284.4,134.8 L1282.7,135.7 L1280.8,136.5 L1278.8,137.3 L1276.7,138.1 L1274.5,138.8 L1272.3,139.5 L1270.1,140.3 L1268.1,141 L1266.2,141.5 L1264.2,142 L1262.1,142.5 L1259.8,143.1 L1257.5,143.8 L1255,144.7 L1252.5,145.7 L1249.9,147 L1247.1,148.4 L1244.3,150 L1241.6,151.6 L1239.1,153.2 L1236.8,154.6 L1234.9,155.7 L1233.5,156.5 Z M1230.5,162 a6.5,6.5 0 1 0 13,0 a6.5,6.5 0 1 0 -13,0 Z M1333,116.8 a1.2,1.2 0 1 0 2.5,0 a1.2,1.2 0 1 0 -2.5,0 Z" fill-rule="nonzero"/>
<path d="M1235.5,485.5 L1234.7,486.5 L1233.6,487.9 L1232.3,489.6 L1230.9,491.3 L1229.4,493.1 L1228,494.7 L1226.7,496.2 L1225.7,497.2 L1225.2,497.7 L1224.9,497.9 L1224.3,498.2 L1223.4,498.6 L1221.9,499.3 L1220.2,500.4 L1218.4,501.9 L1216.6,503.8 L1214.8,506.1 L1213.2,508.7 L1211.7,511.4 L1210.2,514.1 L1208.7,516.7 L1207.1,519.2 L1205.5,521.3 L1203.9,523 L1202,524.6 L1199.9,526.2 L1197.5,527.6 L1194.8,529.1 L1192,530.5 L1189,532 L1186,533.5 L1182.9,535.1 L1179.8,536.7 L1176.3,538.5 L1172.7,540.4 L1169,542.2 L1165.6,543.9 L1162.4,545.4 L1159.8,546.8 L1157.9,547.8 L1161.1,554.8 L1161.1,554.8 L1163.2,554 L1165.9,552.8 L1169.1,551.5 L1172.6,549.9 L1176.4,548.3 L1180.2,546.7 L1183.8,545 L1187.1,543.5 L1190.1,542.2 L1193.1,540.9 L1196.2,539.7 L1199.3,538.4 L1202.4,536.9 L1205.4,535.3 L1208.4,533.5 L1211.3,531.4 L1214,528.7 L1216.3,525.9 L1218.4,522.9 L1220.2,520 L1221.8,517.3 L1223.3,514.8 L1224.6,512.9 L1225.6,511.6 L1226.5,510.9 L1227,510.5 L1227.5,510.3 L1228.1,510.1 L1229.1,509.8 L1230.6,509.2 L1232.5,508.2 L1234.3,506.8 L1235.9,505.3 L1237.6,503.6 L1239.3,501.8 L1240.9,500 L1242.5,498.2 L1243.9,496.7 L1245,495.4 L1245.9,494.5 Z M1233.8,490 a6.9,6.9 0 1 0 13.7,0 a6.9,6.9 0 1 0 -13.7,0 Z M1155.6,551.3 a3.9,3.9 0 1 0 7.7,0 a3.9,3.9 0 1 0 -7.7,0 Z" fill-rule="nonzero"/>
<path d="M1220.2,502.6 L1218.1,503.1 L1215.3,503.7 L1212,504.4 L1208.3,505.1 L1204.4,505.9 L1200.5,506.6 L1196.7,507.3 L1193.4,508 L1190.1,508.5 L1186.7,509 L1183.2,509.5 L1179.8,509.9 L1176.6,510.4 L1173.8,510.8 L1171.4,511.1 L1169.5,511.4 L1170.5,519 L1170.5,519 L1172.3,518.9 L1174.7,518.6 L1177.6,518.4 L1180.8,518 L1184.2,517.7 L1187.8,517.3 L1191.3,516.9 L1194.6,516.4 L1198.1,516 L1201.9,515.5 L1205.9,515 L1209.8,514.4 L1213.6,513.9 L1217,513.4 L1219.8,513 L1222,512.8 Z M1216,507.7 a5.1,5.1 0 1 0 10.3,0 a5.1,5.1 0 1 0 -10.3,0 Z M1166.1,515.2 a3.9,3.9 0 1 0 7.7,0 a3.9,3.9 0 1 0 -7.7,0 Z" fill-rule="nonzero"/>
<path d="M1206.9,526.4 L1206.8,527.3 L1206.6,528.7 L1206.2,530.6 L1205.8,532.8 L1205.5,535.2 L1205.3,537.9 L1205.5,540.7 L1206,543.5 L1207,546.2 L1208.3,548.8 L1209.8,551.3 L1211.3,553.7 L1213,556.1 L1214.6,558.4 L1216,560.5 L1217.3,562.5 L1218.6,564.6 L1220,566.8 L1221.4,568.9 L1222.7,571 L1224,573 L1225.1,574.7 L1226.1,576.2 L1226.8,577.3 L1233.4,573.3 L1233.4,573.3 L1232.7,572.1 L1231.9,570.6 L1230.8,568.8 L1229.7,566.8 L1228.4,564.7 L1227.2,562.5 L1225.9,560.2 L1224.7,558.1 L1223.3,555.8 L1221.9,553.5 L1220.4,551.2 L1218.9,548.9 L1217.6,546.6 L1216.5,544.5 L1215.7,542.7 L1215.2,541.1 L1215,539.7 L1215,538.1 L1215.2,536.3 L1215.5,534.5 L1215.9,532.7 L1216.4,531 L1216.8,529.3 L1217.1,528 Z M1206.9,527.2 a5.1,5.1 0 1 0 10.3,0 a5.1,5.1 0 1 0 -10.3,0 Z M1226.2,575.3 a3.9,3.9 0 1 0 7.7,0 a3.9,3.9 0 1 0 -7.7,0 Z" fill-rule="nonzero"/>
<path d="M1234.8,493.5 L1235.9,495.3 L1237.4,497.7 L1239.2,500.7 L1241.2,503.9 L1243.2,507.3 L1245.3,510.5 L1247.2,513.5 L1248.9,515.9 L1250.4,517.8 L1251.7,519.3 L1252.9,520.7 L1254.1,521.8 L1255.4,522.9 L1256.6,523.8 L1258,524.8 L1259.5,525.9 L1261.3,527.2 L1263.3,528.6 L1265.4,530.1 L1267.8,531.7 L1270.3,533.2 L1273,534.8 L1275.9,536.4 L1279,537.8 L1282.5,539.3 L1286.5,540.7 L1290.8,542.1 L1295.1,543.5 L1299.3,544.8 L1303.1,545.9 L1306.2,546.8 L1308.5,547.4 L1311.1,540.2 L1311.1,540.2 L1308.8,539.2 L1305.8,538 L1302.1,536.6 L1298.1,535 L1294,533.4 L1290,531.7 L1286.4,530.1 L1283.4,528.6 L1280.9,527.1 L1278.5,525.6 L1276.3,524.1 L1274.2,522.5 L1272.2,521 L1270.3,519.4 L1268.6,517.9 L1266.9,516.5 L1265.4,515.2 L1264.2,514.3 L1263.4,513.5 L1262.7,512.8 L1262.1,512.2 L1261.4,511.3 L1260.6,510.1 L1259.5,508.5 L1258.1,506.3 L1256.4,503.6 L1254.5,500.5 L1252.6,497.1 L1250.8,493.9 L1249.1,490.9 L1247.6,488.3 L1246.6,486.5 Z M1233.8,490 a6.9,6.9 0 1 0 13.7,0 a6.9,6.9 0 1 0 -13.7,0 Z M1305.9,543.8 a3.9,3.9 0 1 0 7.7,0 a3.9,3.9 0 1 0 -7.7,0 Z" fill-rule="nonzero"/>
<path d="M1265.9,523.3 L1267,523.3 L1268.4,523.3 L1270.1,523.3 L1272,523.3 L1274,523.3 L1276,523.3 L1278,523.3 L1279.8,523.3 L1281.5,523.3 L1283.4,523.4 L1285.4,523.4 L1287.2,523.5 L1289,523.5 L1290.6,523.5 L1292,523.6 L1293,523.6 L1293.4,515.8 L1293.4,515.8 L1292.4,515.7 L1291,515.6 L1289.5,515.5 L1287.7,515.3 L1285.8,515.2 L1283.9,515 L1282,514.9 L1280.2,514.7 L1278.5,514.5 L1276.5,514.3 L1274.5,514.1 L1272.6,513.8 L1270.7,513.6 L1269,513.4 L1267.6,513.2 L1266.5,513.1 Z M1261.1,518.2 a5.1,5.1 0 1 0 10.3,0 a5.1,5.1 0 1 0 -10.3,0 Z M1289.3,519.7 a3.9,3.9 0 1 0 7.7,0 a3.9,3.9 0 1 0 -7.7,0 Z" fill-rule="nonzero"/>
<path d="M1253.9,525.3 L1253.4,526.8 L1252.9,528.7 L1252.2,530.9 L1251.5,533.2 L1250.7,535.6 L1249.8,537.7 L1248.9,539.6 L1248,541 L1246.9,542.1 L1245.3,543.3 L1243.4,544.6 L1241.4,545.7 L1239.3,546.8 L1237.4,547.8 L1235.7,548.7 L1234.4,549.4 L1238,556.2 L1238,556.2 L1239.2,555.7 L1240.8,554.9 L1242.8,554 L1245.1,553 L1247.5,551.7 L1250,550.3 L1252.3,548.6 L1254.4,546.6 L1256.2,544.4 L1257.8,541.8 L1259.1,539.2 L1260.3,536.6 L1261.3,534.2 L1262.2,532 L1262.9,530.3 L1263.5,529.1 Z M1253.6,527.2 a5.1,5.1 0 1 0 10.3,0 a5.1,5.1 0 1 0 -10.3,0 Z M1232.3,552.8 a3.9,3.9 0 1 0 7.7,0 a3.9,3.9 0 1 0 -7.7,0 Z" fill-rule="nonzero"/>
<path d="M1270.2,532.1 L1269.9,534.1 L1269.5,536.6 L1269,539.6 L1268.4,542.9 L1267.8,546.2 L1267,549.6 L1266.2,552.8 L1265.2,555.6 L1264,558.4 L1262.4,561.5 L1260.6,564.7 L1258.6,567.9 L1256.7,570.9 L1255,573.6 L1253.5,575.9 L1252.4,577.7 L1259,581.9 L1259,581.9 L1260.1,580.2 L1261.6,578 L1263.5,575.3 L1265.5,572.3 L1267.6,569 L1269.7,565.6 L1271.6,562.3 L1273.2,559 L1274.5,555.6 L1275.7,552 L1276.7,548.4 L1277.7,544.8 L1278.5,541.5 L1279.1,538.5 L1279.7,536.1 L1280.2,534.3 Z M1270.1,533.2 a5.1,5.1 0 1 0 10.3,0 a5.1,5.1 0 1 0 -10.3,0 Z M1251.8,579.8 a3.9,3.9 0 1 0 7.7,0 a3.9,3.9 0 1 0 -7.7,0 Z" fill-rule="nonzero"/>
<circle cx="1159.5" cy="551.3" r="5.9"/>
<circle cx="1170" cy="515.2" r="5.9"/>
<circle cx="1230.1" cy="575.3" r="5.9"/>
<circle cx="1309.8" cy="543.8" r="5.9"/>
<circle cx="1293.2" cy="519.7" r="5.9"/>
<circle cx="1236.2" cy="552.8" r="5.9"/>
<circle cx="1255.7" cy="579.8" r="5.9"/></g>
<path d="M1278,286.5 L1350,277 L1356,309 L1278,305.5 Z" fill="#ecebf1"/>
<path d="M1222.6,297.3 C1235,288 1248,279 1255.3,277.5 C1259,277 1261,279 1262.2,279.5 C1265,277 1269,276.5 1273,277.5 C1279,279 1281,285 1279.3,290 C1281,294 1281,299 1279.3,302 C1277,309 1272,312 1265,313.5 C1255,315 1240,309 1222.6,297.3 Z" fill="#b6a6cd"/>
<path d="M1232,299.5 C1242,293 1252,289 1260,289.5 C1267,290 1273,292 1276,295 C1272,300 1265,302 1255,302 C1245,302 1238,301 1232,299.5 Z" fill="#ecebf2"/>
<path d="M1359,260.7 L1360.3,260.7 L1361.6,260.8 L1362.9,261 L1364.2,261.3 L1365.4,261.7 L1366.5,262.3 L1367.6,263 L1368.7,263.8 L1369.8,264.8 L1370.7,265.9 L1371.6,267 L1372.4,268.2 L1373.1,269.5 L1373.6,270.9 L1374.1,272.4 L1374.4,273.9 L1374.8,275.4 L1375,276.8 L1375.2,278.1 L1375.2,279.3 L1375.2,280.4 L1375.2,281.6 L1375.1,282.9 L1375,284.3 L1374.9,285.9 L1374.7,287.7 L1374.4,289.6 L1374.2,291.5 L1374,293.3 L1373.8,295 L1373.7,296.6 L1373.6,298.1 L1373.5,299.5 L1373.4,300.9 L1373.3,302.2 L1373,303.6 L1372.6,305 L1372.2,306.4 L1371.7,307.7 L1371.1,309 L1370.5,310.2 L1369.7,311.2 L1368.8,312.1 L1367.8,312.8 L1366.7,313.5 L1365.6,314 L1364.4,314.3 L1363.3,314.4 L1362.2,314.3 L1361.1,314 L1360,313.5 L1358.9,312.9 L1357.8,312.1 L1356.8,311.2 L1355.8,310.1 L1355,308.7 L1354.1,307.2 L1353.2,305.6 L1352.4,304 L1351.5,302.6 L1350.6,301.3 L1349.6,300 L1348.6,298.7 L1347.7,297.5 L1346.8,296.2 L1346,295 L1345.2,293.8 L1344.5,292.5 L1343.8,291.3 L1343.2,290.1 L1342.7,288.8 L1342.3,287.6 L1342,286.4 L1341.8,285.1 L1341.7,283.9 L1341.6,282.6 L1341.7,281.3 L1341.8,280 L1342,278.6 L1342.3,277.2 L1342.8,275.8 L1343.2,274.3 L1343.8,272.9 L1344.5,271.5 L1345.3,270.1 L1346.1,268.6 L1347.1,267.1 L1348.1,265.7 L1349.2,264.4 L1350.4,263.4 L1351.7,262.6 L1353.1,261.9 L1354.6,261.4 L1356.1,261.1 L1357.6,260.8 Z" fill="#c2b5d8" stroke="#9e8ac2" stroke-width="1.5"/>
<path d="M1353,296.1 L1352.6,295.3 L1352.1,294.2 L1351.5,292.9 L1350.8,291.4 L1350.1,289.9 L1349.5,288.3 L1349.1,286.8 L1348.8,285.4 L1348.7,284 L1348.7,282.6 L1348.7,281.2 L1348.9,279.7 L1349.1,278.3 L1349.4,277 L1349.9,275.8 L1350.4,274.7 L1351,273.7 L1351.8,272.8 L1352.7,272 L1353.7,271.2 L1354.7,270.6 L1355.8,270 L1356.9,269.6 L1357.9,269.3 L1358.9,269.1 L1360.1,269.1 L1361.2,269.2 L1362.3,269.4 L1363.5,269.7 L1364.6,270 L1365.6,270.4 L1366.5,270.9 L1367.3,271.4 L1368.1,272 L1368.9,272.7 L1369.6,273.5 L1370.2,274.3 L1370.8,275.1 L1371.3,276 L1371.8,276.8 L1372.2,277.7 L1372.5,278.7 L1372.8,279.8 L1373,280.9 L1373.1,282 L1373.3,282.9 L1373.4,283.7 L1373.5,284.3" fill="none" stroke="#9e8ac2" stroke-width="1.3" stroke-linecap="round"/>
<path d="M1354.7,285.4 L1354.8,284.9 L1355,284.2 L1355.2,283.3 L1355.4,282.4 L1355.7,281.4 L1356,280.5 L1356.4,279.7 L1356.8,279 L1357.3,278.4 L1357.9,277.9 L1358.6,277.5 L1359.3,277.1 L1360.1,276.8 L1360.8,276.5 L1361.5,276.4 L1362.2,276.3 L1362.9,276.4 L1363.6,276.7 L1364.3,277 L1364.9,277.5 L1365.6,277.9 L1366.2,278.4 L1366.6,278.8 L1367,279" fill="none" stroke="#9e8ac2" stroke-width="1.3" stroke-linecap="round"/>
<path d="M1361.1,284.3 L1361.7,284.2 L1362.5,284.2 L1363.3,284.2 L1364.1,284.4 L1364.8,284.8 L1365.4,285.4 L1365.8,286.3 L1366.2,287.5 L1366.4,288.9 L1366.6,290.3 L1366.8,291.7 L1367,292.9 L1367.3,293.9 L1367.5,294.9 L1367.8,295.8 L1368,296.7 L1368.1,297.5 L1368.1,298.3 L1367.9,299.2 L1367.5,300.1 L1367,300.9 L1366.5,301.7 L1365.9,302.3 L1365.4,302.6 L1364.9,302.6 L1364.3,302.5 L1363.7,302.1 L1363.1,301.6 L1362.6,301 L1362.2,300.4 L1361.9,299.7 L1361.7,298.8 L1361.6,297.8 L1361.5,296.8 L1361.4,295.8 L1361.1,295 L1360.7,294.4 L1360.2,293.8 L1359.6,293.4 L1359.1,292.9 L1358.7,292.4 L1358.4,291.8 L1358.3,291 L1358.3,290.1 L1358.4,289.1 L1358.6,288.1 L1358.8,287.2 L1359,286.5 L1359.2,285.9 L1359.5,285.4 L1359.8,285 L1360.2,284.7 L1360.6,284.4 Z" fill="#9e8ac2"/>
<path d="M1281.5,262.5 L1349.5,324.5 M1349.5,262.5 L1281.5,324.5" stroke="#a62e73" stroke-width="9" stroke-linecap="round"/>
</svg>
<div class="t big" style="left:22px;top:253.9px;font-size:35.5px;transform:scaleX(0.9108)">Omgevingsfactoren</div>
<div class="t big" style="left:127.4px;top:428.3px;font-size:35.5px;transform:scaleX(0.9083)">Genen</div>
<div class="t sm" style="left:566px;top:54.7px;font-size:24.7px;transform:scaleX(0.9135)">Overactiviteit van Dopamine </div>
<div class="t sm" style="left:482.5px;top:394.3px;font-size:24.7px;transform:scaleX(0.9234)">Verminderde werking glutamaatreceptoren</div>
<div class="t sm" style="left:1172.9px;top:616.2px;font-size:24.7px;transform:scaleX(0.9273)">Verstoorde communicatie </div>
<div class="t sm" style="left:1207px;top:649.3px;font-size:24.7px;transform:scaleX(0.9198)">tussen hersencellen</div>
<div class="b" style="left:1698.4px;top:69.85px;font-size:34.2px;transform:scaleX(0.9366)">Positieve</div>
<div class="b" style="left:1680.4px;top:115.85px;font-size:34.2px;transform:scaleX(0.9308)">symptomen</div>
<div class="b" style="left:1693.7px;top:313.85px;font-size:34.2px;transform:scaleX(0.9406)">Negatieve</div>
<div class="b" style="left:1680.4px;top:359.85px;font-size:34.2px;transform:scaleX(0.9308)">symptomen</div>
<div class="b" style="left:1688.9px;top:558.05px;font-size:34.2px;transform:scaleX(0.9243)">Cognitieve</div>
<div class="b" style="left:1680.4px;top:603.85px;font-size:34.2px;transform:scaleX(0.9308)">symptomen</div>
</body></html>
